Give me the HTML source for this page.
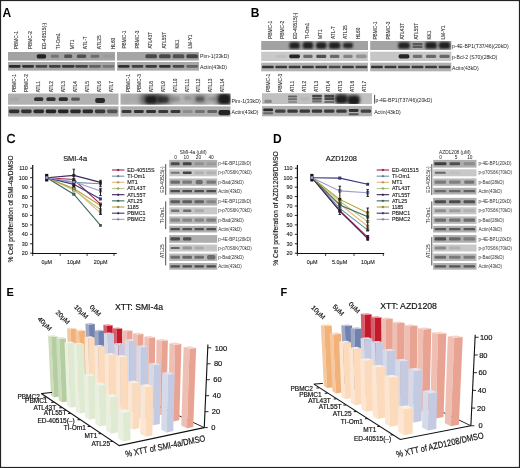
<!DOCTYPE html>
<html><head><meta charset="utf-8"><style>
html,body{margin:0;padding:0;background:#fff;}
svg{display:block;will-change:transform;}
text{font-family:"Liberation Sans",sans-serif;}
</style></head><body>
<svg width="520" height="468" viewBox="0 0 520 468">
<defs>
<filter id="b3" x="-50%" y="-50%" width="200%" height="200%"><feGaussianBlur stdDeviation="0.3"/></filter>
<filter id="b6" x="-50%" y="-50%" width="200%" height="200%"><feGaussianBlur stdDeviation="0.6"/></filter>
<filter id="b10" x="-50%" y="-50%" width="200%" height="200%"><feGaussianBlur stdDeviation="1.0"/></filter>
<filter id="b15" x="-50%" y="-50%" width="200%" height="200%"><feGaussianBlur stdDeviation="1.5"/></filter>
<filter id="b20" x="-50%" y="-50%" width="200%" height="200%"><feGaussianBlur stdDeviation="2.0"/></filter>
<filter id="b8" x="-50%" y="-50%" width="200%" height="200%"><feGaussianBlur stdDeviation="0.8"/></filter>
</defs>
<rect x="0" y="0" width="520" height="468" fill="#fff"/>
<text x="2.60" y="16.60" font-size="12" text-anchor="start" font-weight="bold" fill="#000">A</text>
<text x="18.50" y="49.20" font-size="4.8" text-anchor="start" font-weight="normal" fill="#333" transform="rotate(-90 18.50 49.20)" stroke="#333" stroke-width="0.1">PBMC-1</text>
<text x="32.27" y="49.20" font-size="4.8" text-anchor="start" font-weight="normal" fill="#333" transform="rotate(-90 32.27 49.20)" stroke="#333" stroke-width="0.1">PBMC-2</text>
<text x="46.04" y="49.20" font-size="4.8" text-anchor="start" font-weight="normal" fill="#333" transform="rotate(-90 46.04 49.20)" stroke="#333" stroke-width="0.1">ED-40515(-)</text>
<text x="59.81" y="49.20" font-size="4.8" text-anchor="start" font-weight="normal" fill="#333" transform="rotate(-90 59.81 49.20)" stroke="#333" stroke-width="0.1">TI-Om1</text>
<text x="73.58" y="49.20" font-size="4.8" text-anchor="start" font-weight="normal" fill="#333" transform="rotate(-90 73.58 49.20)" stroke="#333" stroke-width="0.1">MT1</text>
<text x="87.35" y="49.20" font-size="4.8" text-anchor="start" font-weight="normal" fill="#333" transform="rotate(-90 87.35 49.20)" stroke="#333" stroke-width="0.1">ATL-T</text>
<text x="101.12" y="49.20" font-size="4.8" text-anchor="start" font-weight="normal" fill="#333" transform="rotate(-90 101.12 49.20)" stroke="#333" stroke-width="0.1">ATL25</text>
<text x="114.89" y="49.20" font-size="4.8" text-anchor="start" font-weight="normal" fill="#333" transform="rotate(-90 114.89 49.20)" stroke="#333" stroke-width="0.1">HL60</text>
<text x="125.70" y="48.60" font-size="4.8" text-anchor="start" font-weight="normal" fill="#333" transform="rotate(-90 125.70 48.60)" stroke="#333" stroke-width="0.1">PBMC-1</text>
<text x="139.00" y="48.60" font-size="4.8" text-anchor="start" font-weight="normal" fill="#333" transform="rotate(-90 139.00 48.60)" stroke="#333" stroke-width="0.1">PBMC-3</text>
<text x="152.30" y="48.60" font-size="4.8" text-anchor="start" font-weight="normal" fill="#333" transform="rotate(-90 152.30 48.60)" stroke="#333" stroke-width="0.1">ATL43T</text>
<text x="165.60" y="48.60" font-size="4.8" text-anchor="start" font-weight="normal" fill="#333" transform="rotate(-90 165.60 48.60)" stroke="#333" stroke-width="0.1">ATL55T</text>
<text x="178.90" y="48.60" font-size="4.8" text-anchor="start" font-weight="normal" fill="#333" transform="rotate(-90 178.90 48.60)" stroke="#333" stroke-width="0.1">KK1</text>
<text x="192.20" y="48.60" font-size="4.8" text-anchor="start" font-weight="normal" fill="#333" transform="rotate(-90 192.20 48.60)" stroke="#333" stroke-width="0.1">LM-Y1</text>
<text x="16.20" y="92.30" font-size="4.8" text-anchor="start" font-weight="normal" fill="#333" transform="rotate(-90 16.20 92.30)" stroke="#333" stroke-width="0.1">PBMC-1</text>
<text x="28.35" y="92.30" font-size="4.8" text-anchor="start" font-weight="normal" fill="#333" transform="rotate(-90 28.35 92.30)" stroke="#333" stroke-width="0.1">PBMC-2</text>
<text x="40.50" y="92.30" font-size="4.8" text-anchor="start" font-weight="normal" fill="#333" transform="rotate(-90 40.50 92.30)" stroke="#333" stroke-width="0.1">ATL1</text>
<text x="52.65" y="92.30" font-size="4.8" text-anchor="start" font-weight="normal" fill="#333" transform="rotate(-90 52.65 92.30)" stroke="#333" stroke-width="0.1">ATL2</text>
<text x="64.80" y="92.30" font-size="4.8" text-anchor="start" font-weight="normal" fill="#333" transform="rotate(-90 64.80 92.30)" stroke="#333" stroke-width="0.1">ATL3</text>
<text x="76.95" y="92.30" font-size="4.8" text-anchor="start" font-weight="normal" fill="#333" transform="rotate(-90 76.95 92.30)" stroke="#333" stroke-width="0.1">ATL4</text>
<text x="89.10" y="92.30" font-size="4.8" text-anchor="start" font-weight="normal" fill="#333" transform="rotate(-90 89.10 92.30)" stroke="#333" stroke-width="0.1">ATL5</text>
<text x="101.25" y="92.30" font-size="4.8" text-anchor="start" font-weight="normal" fill="#333" transform="rotate(-90 101.25 92.30)" stroke="#333" stroke-width="0.1">ATL6</text>
<text x="113.40" y="92.30" font-size="4.8" text-anchor="start" font-weight="normal" fill="#333" transform="rotate(-90 113.40 92.30)" stroke="#333" stroke-width="0.1">ATL7</text>
<text x="129.70" y="92.30" font-size="4.8" text-anchor="start" font-weight="normal" fill="#333" transform="rotate(-90 129.70 92.30)" stroke="#333" stroke-width="0.1">PBMC-1</text>
<text x="141.48" y="92.30" font-size="4.8" text-anchor="start" font-weight="normal" fill="#333" transform="rotate(-90 141.48 92.30)" stroke="#333" stroke-width="0.1">PBMC-3</text>
<text x="153.26" y="92.30" font-size="4.8" text-anchor="start" font-weight="normal" fill="#333" transform="rotate(-90 153.26 92.30)" stroke="#333" stroke-width="0.1">ATL8</text>
<text x="165.04" y="92.30" font-size="4.8" text-anchor="start" font-weight="normal" fill="#333" transform="rotate(-90 165.04 92.30)" stroke="#333" stroke-width="0.1">ATL9</text>
<text x="176.82" y="92.30" font-size="4.8" text-anchor="start" font-weight="normal" fill="#333" transform="rotate(-90 176.82 92.30)" stroke="#333" stroke-width="0.1">ATL10</text>
<text x="188.60" y="92.30" font-size="4.8" text-anchor="start" font-weight="normal" fill="#333" transform="rotate(-90 188.60 92.30)" stroke="#333" stroke-width="0.1">ATL11</text>
<text x="200.38" y="92.30" font-size="4.8" text-anchor="start" font-weight="normal" fill="#333" transform="rotate(-90 200.38 92.30)" stroke="#333" stroke-width="0.1">ATL12</text>
<text x="212.16" y="92.30" font-size="4.8" text-anchor="start" font-weight="normal" fill="#333" transform="rotate(-90 212.16 92.30)" stroke="#333" stroke-width="0.1">ATL13</text>
<text x="223.94" y="92.30" font-size="4.8" text-anchor="start" font-weight="normal" fill="#333" transform="rotate(-90 223.94 92.30)" stroke="#333" stroke-width="0.1">ATL14</text>
<rect x="8.00" y="52.00" width="107.00" height="8.60" fill="#a3a3a3"/>
<clipPath id="c1"><rect x="8.00" y="52.00" width="107.00" height="8.60"/></clipPath><g clip-path="url(#c1)">
<rect x="36.76" y="54.15" width="9.36" height="4.30" rx="1.72" fill="#1a1a1a" opacity="0.95" filter="url(#b6)"/>
<rect x="50.80" y="54.79" width="8.03" height="3.01" rx="1.20" fill="#1a1a1a" opacity="0.35" filter="url(#b6)"/>
<rect x="64.17" y="54.58" width="8.03" height="3.44" rx="1.38" fill="#1a1a1a" opacity="0.60" filter="url(#b6)"/>
<rect x="76.88" y="54.58" width="9.36" height="3.44" rx="1.38" fill="#1a1a1a" opacity="0.60" filter="url(#b6)"/>
<rect x="90.59" y="54.79" width="8.69" height="3.01" rx="1.20" fill="#1a1a1a" opacity="0.40" filter="url(#b6)"/>
<rect x="102.96" y="54.84" width="10.70" height="2.92" rx="1.17" fill="#1a1a1a" opacity="0.05" filter="url(#b6)"/>
</g>
<rect x="8.00" y="62.00" width="107.00" height="8.60" fill="#a6a6a6"/>
<clipPath id="c2"><rect x="8.00" y="62.00" width="107.00" height="8.60"/></clipPath><g clip-path="url(#c2)">
<rect x="8.80" y="64.92" width="11.77" height="2.75" rx="1.10" fill="#1a1a1a" opacity="0.90" filter="url(#b6)"/>
<rect x="22.18" y="64.92" width="11.77" height="2.75" rx="1.10" fill="#1a1a1a" opacity="0.85" filter="url(#b6)"/>
<rect x="35.55" y="64.92" width="11.77" height="2.75" rx="1.10" fill="#1a1a1a" opacity="0.70" filter="url(#b6)"/>
<rect x="48.93" y="64.92" width="11.77" height="2.75" rx="1.10" fill="#1a1a1a" opacity="0.75" filter="url(#b6)"/>
<rect x="61.83" y="64.92" width="12.71" height="2.75" rx="1.10" fill="#1a1a1a" opacity="0.80" filter="url(#b6)"/>
<rect x="75.21" y="64.92" width="12.71" height="2.75" rx="1.10" fill="#1a1a1a" opacity="0.70" filter="url(#b6)"/>
<rect x="89.05" y="64.92" width="11.77" height="2.75" rx="1.10" fill="#1a1a1a" opacity="0.50" filter="url(#b6)"/>
<rect x="102.43" y="64.92" width="11.77" height="2.75" rx="1.10" fill="#1a1a1a" opacity="0.35" filter="url(#b6)"/>
</g>
<rect x="117.00" y="52.00" width="82.00" height="8.60" fill="#a5a5a5"/>
<clipPath id="c3"><rect x="117.00" y="52.00" width="82.00" height="8.60"/></clipPath><g clip-path="url(#c3)">
<rect x="145.36" y="54.24" width="11.62" height="4.13" rx="1.65" fill="#1a1a1a" opacity="0.68" filter="url(#b6)"/>
<rect x="159.02" y="54.24" width="11.62" height="4.13" rx="1.65" fill="#1a1a1a" opacity="0.68" filter="url(#b6)"/>
<rect x="172.69" y="54.36" width="11.62" height="3.87" rx="1.55" fill="#1a1a1a" opacity="0.62" filter="url(#b6)"/>
<rect x="186.36" y="54.24" width="11.62" height="4.13" rx="1.65" fill="#1a1a1a" opacity="0.72" filter="url(#b6)"/>
</g>
<rect x="117.00" y="62.00" width="82.00" height="8.60" fill="#a8a8a8"/>
<clipPath id="c4"><rect x="117.00" y="62.00" width="82.00" height="8.60"/></clipPath><g clip-path="url(#c4)">
<rect x="118.02" y="64.92" width="11.62" height="2.75" rx="1.10" fill="#1a1a1a" opacity="0.85" filter="url(#b6)"/>
<rect x="131.69" y="64.92" width="11.62" height="2.75" rx="1.10" fill="#1a1a1a" opacity="0.75" filter="url(#b6)"/>
<rect x="145.36" y="64.92" width="11.62" height="2.75" rx="1.10" fill="#1a1a1a" opacity="0.80" filter="url(#b6)"/>
<rect x="159.02" y="64.92" width="11.62" height="2.75" rx="1.10" fill="#1a1a1a" opacity="0.85" filter="url(#b6)"/>
<rect x="172.69" y="64.92" width="11.62" height="2.75" rx="1.10" fill="#1a1a1a" opacity="0.70" filter="url(#b6)"/>
<rect x="186.36" y="64.92" width="11.62" height="2.75" rx="1.10" fill="#1a1a1a" opacity="0.50" filter="url(#b6)"/>
</g>
<rect x="8.00" y="93.50" width="110.50" height="11.20" fill="#b1b1b1"/>
<clipPath id="c5"><rect x="8.00" y="93.50" width="110.50" height="11.20"/></clipPath><g clip-path="url(#c5)">
<rect x="9.23" y="97.20" width="9.82" height="3.81" rx="1.52" fill="#1a1a1a" opacity="0.05" filter="url(#b6)"/>
<rect x="34.09" y="97.14" width="9.21" height="3.92" rx="1.57" fill="#1a1a1a" opacity="0.85" filter="url(#b6)"/>
<rect x="46.37" y="97.14" width="9.21" height="3.92" rx="1.57" fill="#1a1a1a" opacity="0.85" filter="url(#b6)"/>
<rect x="58.65" y="97.14" width="9.21" height="3.92" rx="1.57" fill="#1a1a1a" opacity="0.90" filter="url(#b6)"/>
<rect x="71.23" y="97.42" width="8.59" height="3.36" rx="1.34" fill="#1a1a1a" opacity="0.60" filter="url(#b6)"/>
<rect x="95.17" y="97.92" width="9.82" height="5.04" rx="2.02" fill="#1a1a1a" opacity="0.90" filter="url(#b6)"/>
</g>
<rect x="8.00" y="106.30" width="110.50" height="10.30" fill="#a9a9a9"/>
<clipPath id="c6"><rect x="8.00" y="106.30" width="110.50" height="10.30"/></clipPath><g clip-path="url(#c6)">
<rect x="8.92" y="109.60" width="10.44" height="3.71" rx="1.48" fill="#1a1a1a" opacity="0.85" filter="url(#b6)"/>
<rect x="21.20" y="109.60" width="10.44" height="3.71" rx="1.48" fill="#1a1a1a" opacity="0.85" filter="url(#b6)"/>
<rect x="33.48" y="109.60" width="10.44" height="3.71" rx="1.48" fill="#1a1a1a" opacity="0.90" filter="url(#b6)"/>
<rect x="45.75" y="109.60" width="10.44" height="3.71" rx="1.48" fill="#1a1a1a" opacity="0.95" filter="url(#b6)"/>
<rect x="58.03" y="109.60" width="10.44" height="3.71" rx="1.48" fill="#1a1a1a" opacity="0.95" filter="url(#b6)"/>
<rect x="70.31" y="109.60" width="10.44" height="3.71" rx="1.48" fill="#1a1a1a" opacity="0.90" filter="url(#b6)"/>
<rect x="82.59" y="109.60" width="10.44" height="3.71" rx="1.48" fill="#1a1a1a" opacity="0.90" filter="url(#b6)"/>
<rect x="94.87" y="109.60" width="10.44" height="3.71" rx="1.48" fill="#1a1a1a" opacity="0.80" filter="url(#b6)"/>
<rect x="107.14" y="109.60" width="10.44" height="3.71" rx="1.48" fill="#1a1a1a" opacity="0.60" filter="url(#b6)"/>
</g>
<rect x="120.50" y="93.50" width="110.00" height="11.20" fill="#b5b5b5"/>
<clipPath id="c7"><rect x="120.50" y="93.50" width="110.00" height="11.20"/></clipPath><g clip-path="url(#c7)">
<rect x="121.11" y="94.62" width="11.00" height="8.96" rx="3.58" fill="#1a1a1a" opacity="0.08" filter="url(#b20)"/>
<rect x="133.33" y="94.62" width="11.00" height="8.96" rx="3.58" fill="#1a1a1a" opacity="0.08" filter="url(#b20)"/>
<rect x="140.67" y="92.94" width="20.78" height="12.32" rx="4.93" fill="#1a1a1a" opacity="0.55" filter="url(#b20)"/>
<rect x="145.56" y="95.74" width="11.00" height="7.84" rx="3.14" fill="#1a1a1a" opacity="0.95" filter="url(#b10)"/>
<rect x="154.72" y="93.50" width="17.11" height="11.20" rx="4.48" fill="#1a1a1a" opacity="0.40" filter="url(#b20)"/>
<rect x="158.08" y="96.58" width="10.39" height="6.16" rx="2.46" fill="#1a1a1a" opacity="0.75" filter="url(#b10)"/>
<rect x="171.22" y="96.58" width="8.56" height="5.04" rx="2.02" fill="#1a1a1a" opacity="0.22" filter="url(#b10)"/>
<rect x="184.06" y="95.74" width="7.33" height="4.48" rx="1.79" fill="#1a1a1a" opacity="0.20" filter="url(#b10)"/>
<rect x="192.61" y="94.06" width="14.67" height="10.08" rx="4.03" fill="#1a1a1a" opacity="0.22" filter="url(#b20)"/>
<rect x="195.67" y="96.58" width="8.56" height="5.04" rx="2.02" fill="#1a1a1a" opacity="0.50" filter="url(#b10)"/>
<rect x="208.50" y="96.86" width="7.33" height="4.48" rx="1.79" fill="#1a1a1a" opacity="0.20" filter="url(#b10)"/>
<rect x="215.83" y="92.94" width="17.11" height="12.32" rx="4.93" fill="#1a1a1a" opacity="0.60" filter="url(#b20)"/>
<rect x="218.58" y="94.34" width="11.61" height="9.52" rx="3.81" fill="#1a1a1a" opacity="1.00" filter="url(#b10)"/>
</g>
<rect x="120.50" y="106.30" width="110.00" height="10.30" fill="#adadad"/>
<clipPath id="c8"><rect x="120.50" y="106.30" width="110.00" height="10.30"/></clipPath><g clip-path="url(#c8)">
<rect x="121.72" y="109.90" width="9.78" height="3.09" rx="1.24" fill="#1a1a1a" opacity="0.80" filter="url(#b6)"/>
<rect x="133.94" y="109.90" width="9.78" height="3.09" rx="1.24" fill="#1a1a1a" opacity="0.85" filter="url(#b6)"/>
<rect x="146.17" y="109.90" width="9.78" height="3.09" rx="1.24" fill="#1a1a1a" opacity="0.85" filter="url(#b6)"/>
<rect x="158.39" y="109.90" width="9.78" height="3.09" rx="1.24" fill="#1a1a1a" opacity="0.80" filter="url(#b6)"/>
<rect x="170.61" y="109.90" width="9.78" height="3.09" rx="1.24" fill="#1a1a1a" opacity="0.80" filter="url(#b6)"/>
<rect x="182.83" y="109.90" width="9.78" height="3.09" rx="1.24" fill="#1a1a1a" opacity="0.22" filter="url(#b6)"/>
<rect x="195.06" y="109.90" width="9.78" height="3.09" rx="1.24" fill="#1a1a1a" opacity="0.40" filter="url(#b6)"/>
<rect x="207.28" y="109.90" width="9.78" height="3.09" rx="1.24" fill="#1a1a1a" opacity="0.50" filter="url(#b6)"/>
<rect x="218.58" y="110.11" width="11.61" height="5.15" rx="2.06" fill="#1a1a1a" opacity="0.95" filter="url(#b6)"/>
</g>
<text x="200.00" y="58.00" font-size="5.2" text-anchor="start" font-weight="normal" fill="#222">Pim-1(33kD)</text>
<text x="200.00" y="69.30" font-size="5.2" text-anchor="start" font-weight="normal" fill="#222">Actin(43kD)</text>
<text x="231.50" y="102.60" font-size="5.2" text-anchor="start" font-weight="normal" fill="#222">Pim-1(33kD)</text>
<text x="231.50" y="114.20" font-size="5.2" text-anchor="start" font-weight="normal" fill="#222">Actin(43kD)</text>
<text x="250.80" y="16.60" font-size="12" text-anchor="start" font-weight="bold" fill="#000">B</text>
<text x="271.50" y="39.00" font-size="4.8" text-anchor="start" font-weight="normal" fill="#333" transform="rotate(-90 271.50 39.00)" stroke="#333" stroke-width="0.1">PBMC-1</text>
<text x="284.12" y="39.00" font-size="4.8" text-anchor="start" font-weight="normal" fill="#333" transform="rotate(-90 284.12 39.00)" stroke="#333" stroke-width="0.1">PBMC-2</text>
<text x="296.74" y="39.00" font-size="4.8" text-anchor="start" font-weight="normal" fill="#333" transform="rotate(-90 296.74 39.00)" stroke="#333" stroke-width="0.1">ED-40515(-)</text>
<text x="309.36" y="39.00" font-size="4.8" text-anchor="start" font-weight="normal" fill="#333" transform="rotate(-90 309.36 39.00)" stroke="#333" stroke-width="0.1">TI-Om1</text>
<text x="321.98" y="39.00" font-size="4.8" text-anchor="start" font-weight="normal" fill="#333" transform="rotate(-90 321.98 39.00)" stroke="#333" stroke-width="0.1">MT1</text>
<text x="334.60" y="39.00" font-size="4.8" text-anchor="start" font-weight="normal" fill="#333" transform="rotate(-90 334.60 39.00)" stroke="#333" stroke-width="0.1">ATL-T</text>
<text x="347.22" y="39.00" font-size="4.8" text-anchor="start" font-weight="normal" fill="#333" transform="rotate(-90 347.22 39.00)" stroke="#333" stroke-width="0.1">ATL25</text>
<text x="359.84" y="39.00" font-size="4.8" text-anchor="start" font-weight="normal" fill="#333" transform="rotate(-90 359.84 39.00)" stroke="#333" stroke-width="0.1">HL60</text>
<text x="376.90" y="39.60" font-size="4.8" text-anchor="start" font-weight="normal" fill="#333" transform="rotate(-90 376.90 39.60)" stroke="#333" stroke-width="0.1">PBMC-1</text>
<text x="390.50" y="39.60" font-size="4.8" text-anchor="start" font-weight="normal" fill="#333" transform="rotate(-90 390.50 39.60)" stroke="#333" stroke-width="0.1">PBMC-3</text>
<text x="404.10" y="39.60" font-size="4.8" text-anchor="start" font-weight="normal" fill="#333" transform="rotate(-90 404.10 39.60)" stroke="#333" stroke-width="0.1">ATL43T</text>
<text x="417.70" y="39.60" font-size="4.8" text-anchor="start" font-weight="normal" fill="#333" transform="rotate(-90 417.70 39.60)" stroke="#333" stroke-width="0.1">ATL55T</text>
<text x="431.30" y="39.60" font-size="4.8" text-anchor="start" font-weight="normal" fill="#333" transform="rotate(-90 431.30 39.60)" stroke="#333" stroke-width="0.1">KK1</text>
<text x="444.90" y="39.60" font-size="4.8" text-anchor="start" font-weight="normal" fill="#333" transform="rotate(-90 444.90 39.60)" stroke="#333" stroke-width="0.1">LM-Y1</text>
<text x="270.40" y="92.00" font-size="4.8" text-anchor="start" font-weight="normal" fill="#333" transform="rotate(-90 270.40 92.00)" stroke="#333" stroke-width="0.1">PBMC-1</text>
<text x="282.38" y="92.00" font-size="4.8" text-anchor="start" font-weight="normal" fill="#333" transform="rotate(-90 282.38 92.00)" stroke="#333" stroke-width="0.1">PBMC-3</text>
<text x="294.36" y="92.00" font-size="4.8" text-anchor="start" font-weight="normal" fill="#333" transform="rotate(-90 294.36 92.00)" stroke="#333" stroke-width="0.1">ATL1</text>
<text x="306.34" y="92.00" font-size="4.8" text-anchor="start" font-weight="normal" fill="#333" transform="rotate(-90 306.34 92.00)" stroke="#333" stroke-width="0.1">ATL2</text>
<text x="318.32" y="92.00" font-size="4.8" text-anchor="start" font-weight="normal" fill="#333" transform="rotate(-90 318.32 92.00)" stroke="#333" stroke-width="0.1">ATL3</text>
<text x="330.30" y="92.00" font-size="4.8" text-anchor="start" font-weight="normal" fill="#333" transform="rotate(-90 330.30 92.00)" stroke="#333" stroke-width="0.1">ATL4</text>
<text x="342.28" y="92.00" font-size="4.8" text-anchor="start" font-weight="normal" fill="#333" transform="rotate(-90 342.28 92.00)" stroke="#333" stroke-width="0.1">ATL5</text>
<text x="354.26" y="92.00" font-size="4.8" text-anchor="start" font-weight="normal" fill="#333" transform="rotate(-90 354.26 92.00)" stroke="#333" stroke-width="0.1">ATL6</text>
<text x="366.24" y="92.00" font-size="4.8" text-anchor="start" font-weight="normal" fill="#333" transform="rotate(-90 366.24 92.00)" stroke="#333" stroke-width="0.1">ATL7</text>
<rect x="261.20" y="41.00" width="106.80" height="9.00" fill="#a2a2a2"/>
<clipPath id="c9"><rect x="261.20" y="41.00" width="106.80" height="9.00"/></clipPath><g clip-path="url(#c9)">
<rect x="289.37" y="42.26" width="10.41" height="6.48" rx="2.59" fill="#1a1a1a" opacity="0.97" filter="url(#b8)"/>
<rect x="302.72" y="42.12" width="10.41" height="6.75" rx="2.70" fill="#1a1a1a" opacity="0.97" filter="url(#b8)"/>
<rect x="316.07" y="42.35" width="10.41" height="6.30" rx="2.52" fill="#1a1a1a" opacity="0.97" filter="url(#b8)"/>
<rect x="328.95" y="42.35" width="11.35" height="6.30" rx="2.52" fill="#1a1a1a" opacity="0.97" filter="url(#b8)"/>
<rect x="342.97" y="42.80" width="10.01" height="5.40" rx="2.16" fill="#1a1a1a" opacity="0.92" filter="url(#b8)"/>
</g>
<rect x="261.20" y="51.70" width="106.80" height="9.30" fill="#c9c9c9"/>
<clipPath id="c10"><rect x="261.20" y="51.70" width="106.80" height="9.30"/></clipPath><g clip-path="url(#c10)">
<rect x="275.88" y="54.77" width="10.68" height="3.16" rx="1.26" fill="#1a1a1a" opacity="0.05" filter="url(#b6)"/>
<rect x="289.24" y="54.49" width="10.68" height="3.72" rx="1.49" fill="#1a1a1a" opacity="0.95" filter="url(#b6)"/>
<rect x="303.25" y="54.72" width="9.35" height="3.25" rx="1.30" fill="#1a1a1a" opacity="0.55" filter="url(#b6)"/>
<rect x="316.27" y="54.72" width="10.01" height="3.25" rx="1.30" fill="#1a1a1a" opacity="0.70" filter="url(#b6)"/>
<rect x="329.95" y="54.72" width="9.35" height="3.25" rx="1.30" fill="#1a1a1a" opacity="0.55" filter="url(#b6)"/>
<rect x="343.30" y="54.72" width="9.35" height="3.25" rx="1.30" fill="#1a1a1a" opacity="0.40" filter="url(#b6)"/>
<rect x="355.99" y="54.49" width="10.68" height="3.72" rx="1.49" fill="#1a1a1a" opacity="0.30" filter="url(#b6)"/>
</g>
<rect x="261.20" y="62.70" width="106.80" height="8.60" fill="#b2b2b2"/>
<clipPath id="c11"><rect x="261.20" y="62.70" width="106.80" height="8.60"/></clipPath><g clip-path="url(#c11)">
<rect x="262.00" y="65.80" width="11.75" height="2.41" rx="0.96" fill="#1a1a1a" opacity="0.85" filter="url(#b6)"/>
<rect x="275.35" y="65.80" width="11.75" height="2.41" rx="0.96" fill="#1a1a1a" opacity="0.80" filter="url(#b6)"/>
<rect x="288.70" y="65.80" width="11.75" height="2.41" rx="0.96" fill="#1a1a1a" opacity="0.80" filter="url(#b6)"/>
<rect x="302.05" y="65.80" width="11.75" height="2.41" rx="0.96" fill="#1a1a1a" opacity="0.80" filter="url(#b6)"/>
<rect x="315.40" y="65.80" width="11.75" height="2.41" rx="0.96" fill="#1a1a1a" opacity="0.80" filter="url(#b6)"/>
<rect x="328.75" y="65.80" width="11.75" height="2.41" rx="0.96" fill="#1a1a1a" opacity="0.70" filter="url(#b6)"/>
<rect x="342.10" y="65.80" width="11.75" height="2.41" rx="0.96" fill="#1a1a1a" opacity="0.80" filter="url(#b6)"/>
<rect x="355.45" y="65.80" width="11.75" height="2.41" rx="0.96" fill="#1a1a1a" opacity="0.75" filter="url(#b6)"/>
</g>
<rect x="370.20" y="41.00" width="81.10" height="9.00" fill="#a4a4a4"/>
<clipPath id="c12"><rect x="370.20" y="41.00" width="81.10" height="9.00"/></clipPath><g clip-path="url(#c12)">
<rect x="398.18" y="42.26" width="11.62" height="6.48" rx="2.59" fill="#1a1a1a" opacity="0.95" filter="url(#b8)"/>
<rect x="412.44" y="43.02" width="10.14" height="2.25" rx="0.90" fill="#1a1a1a" opacity="0.55" filter="url(#b6)"/>
<rect x="412.44" y="45.73" width="10.14" height="2.25" rx="0.90" fill="#1a1a1a" opacity="0.55" filter="url(#b6)"/>
<rect x="425.28" y="42.12" width="11.49" height="6.75" rx="2.70" fill="#1a1a1a" opacity="0.97" filter="url(#b8)"/>
<rect x="438.80" y="42.12" width="11.49" height="6.75" rx="2.70" fill="#1a1a1a" opacity="0.97" filter="url(#b8)"/>
</g>
<rect x="370.20" y="51.70" width="81.10" height="9.30" fill="#c6c6c6"/>
<clipPath id="c13"><rect x="370.20" y="51.70" width="81.10" height="9.30"/></clipPath><g clip-path="url(#c13)">
<rect x="398.58" y="54.26" width="10.81" height="4.18" rx="1.67" fill="#1a1a1a" opacity="0.95" filter="url(#b6)"/>
<rect x="412.78" y="54.72" width="9.46" height="3.25" rx="1.30" fill="#1a1a1a" opacity="0.50" filter="url(#b6)"/>
<rect x="425.96" y="54.72" width="10.14" height="3.25" rx="1.30" fill="#1a1a1a" opacity="0.55" filter="url(#b6)"/>
<rect x="439.47" y="54.72" width="10.14" height="3.25" rx="1.30" fill="#1a1a1a" opacity="0.55" filter="url(#b6)"/>
</g>
<rect x="370.20" y="62.70" width="81.10" height="8.60" fill="#b0b0b0"/>
<clipPath id="c14"><rect x="370.20" y="62.70" width="81.10" height="8.60"/></clipPath><g clip-path="url(#c14)">
<rect x="371.01" y="65.80" width="11.89" height="2.41" rx="0.96" fill="#1a1a1a" opacity="0.85" filter="url(#b6)"/>
<rect x="384.53" y="65.80" width="11.89" height="2.41" rx="0.96" fill="#1a1a1a" opacity="0.80" filter="url(#b6)"/>
<rect x="398.04" y="65.80" width="11.89" height="2.41" rx="0.96" fill="#1a1a1a" opacity="0.80" filter="url(#b6)"/>
<rect x="411.56" y="65.80" width="11.89" height="2.41" rx="0.96" fill="#1a1a1a" opacity="0.80" filter="url(#b6)"/>
<rect x="425.08" y="65.80" width="11.89" height="2.41" rx="0.96" fill="#1a1a1a" opacity="0.80" filter="url(#b6)"/>
<rect x="438.59" y="65.80" width="11.89" height="2.41" rx="0.96" fill="#1a1a1a" opacity="0.75" filter="url(#b6)"/>
</g>
<rect x="262.00" y="93.20" width="110.00" height="10.90" fill="#c0c0c0"/>
<clipPath id="c15"><rect x="262.00" y="93.20" width="110.00" height="10.90"/></clipPath><g clip-path="url(#c15)">
<rect x="264.44" y="99.74" width="7.33" height="3.27" rx="1.31" fill="#1a1a1a" opacity="0.35" filter="url(#b6)"/>
<rect x="287.97" y="95.49" width="9.17" height="1.96" rx="0.78" fill="#1a1a1a" opacity="0.55" filter="url(#b6)"/>
<rect x="287.97" y="98.21" width="9.17" height="1.96" rx="0.78" fill="#1a1a1a" opacity="0.50" filter="url(#b6)"/>
<rect x="287.97" y="100.94" width="9.17" height="1.96" rx="0.78" fill="#1a1a1a" opacity="0.30" filter="url(#b6)"/>
<rect x="299.89" y="96.80" width="9.78" height="3.71" rx="1.48" fill="#1a1a1a" opacity="0.05" filter="url(#b6)"/>
<rect x="312.11" y="94.84" width="9.78" height="2.18" rx="0.87" fill="#1a1a1a" opacity="0.75" filter="url(#b6)"/>
<rect x="312.11" y="97.56" width="9.78" height="2.18" rx="0.87" fill="#1a1a1a" opacity="0.70" filter="url(#b6)"/>
<rect x="312.11" y="100.28" width="9.78" height="2.18" rx="0.87" fill="#1a1a1a" opacity="0.50" filter="url(#b6)"/>
<rect x="324.33" y="94.84" width="9.78" height="2.18" rx="0.87" fill="#1a1a1a" opacity="0.75" filter="url(#b6)"/>
<rect x="324.33" y="97.29" width="9.78" height="2.72" rx="1.09" fill="#1a1a1a" opacity="0.75" filter="url(#b6)"/>
<rect x="324.33" y="100.83" width="9.78" height="2.18" rx="0.87" fill="#1a1a1a" opacity="0.50" filter="url(#b6)"/>
<rect x="334.11" y="93.47" width="14.67" height="10.35" rx="4.14" fill="#1a1a1a" opacity="0.60" filter="url(#b15)"/>
<rect x="336.25" y="95.38" width="10.39" height="7.63" rx="3.05" fill="#1a1a1a" opacity="0.95" filter="url(#b8)"/>
<rect x="346.94" y="94.56" width="13.44" height="10.35" rx="4.14" fill="#1a1a1a" opacity="0.60" filter="url(#b15)"/>
<rect x="348.47" y="96.20" width="10.39" height="8.17" rx="3.27" fill="#1a1a1a" opacity="1.00" filter="url(#b8)"/>
</g>
<rect x="262.00" y="105.90" width="110.00" height="10.40" fill="#b0b0b0"/>
<clipPath id="c16"><rect x="262.00" y="105.90" width="110.00" height="10.40"/></clipPath><g clip-path="url(#c16)">
<rect x="263.22" y="108.40" width="9.78" height="2.91" rx="1.16" fill="#1a1a1a" opacity="0.90" filter="url(#b6)"/>
<rect x="263.22" y="112.14" width="9.78" height="2.08" rx="0.83" fill="#1a1a1a" opacity="0.50" filter="url(#b6)"/>
<rect x="275.14" y="109.54" width="10.39" height="3.12" rx="1.25" fill="#1a1a1a" opacity="0.75" filter="url(#b6)"/>
<rect x="287.36" y="109.54" width="10.39" height="3.12" rx="1.25" fill="#1a1a1a" opacity="0.80" filter="url(#b6)"/>
<rect x="299.58" y="109.54" width="10.39" height="3.12" rx="1.25" fill="#1a1a1a" opacity="0.80" filter="url(#b6)"/>
<rect x="311.81" y="109.54" width="10.39" height="3.12" rx="1.25" fill="#1a1a1a" opacity="0.80" filter="url(#b6)"/>
<rect x="324.03" y="109.54" width="10.39" height="3.12" rx="1.25" fill="#1a1a1a" opacity="0.80" filter="url(#b6)"/>
<rect x="336.25" y="109.54" width="10.39" height="3.12" rx="1.25" fill="#1a1a1a" opacity="0.80" filter="url(#b6)"/>
<rect x="348.78" y="109.12" width="9.78" height="2.91" rx="1.16" fill="#1a1a1a" opacity="0.85" filter="url(#b6)"/>
<rect x="348.78" y="113.18" width="9.78" height="2.08" rx="0.83" fill="#1a1a1a" opacity="0.60" filter="url(#b6)"/>
<rect x="360.69" y="109.54" width="10.39" height="3.12" rx="1.25" fill="#1a1a1a" opacity="0.75" filter="url(#b6)"/>
</g>
<text x="452.00" y="47.70" font-size="5.1" text-anchor="start" font-weight="normal" fill="#222">p-4E-BP1(T37/46)(20kD)</text>
<text x="452.00" y="59.20" font-size="5.1" text-anchor="start" font-weight="normal" fill="#222">p-Bcl-2 (S70)(28kD)</text>
<text x="452.00" y="69.60" font-size="5.1" text-anchor="start" font-weight="normal" fill="#222">Actin(43kD)</text>
<line x1="374.6" y1="94.8" x2="374.6" y2="103.5" stroke="#222" stroke-width="0.8"/>
<text x="375.60" y="101.70" font-size="5.1" text-anchor="start" font-weight="normal" fill="#222">p-4E-BP1(T37/46)(20kD)</text>
<text x="374.20" y="114.00" font-size="5.1" text-anchor="start" font-weight="normal" fill="#222">Actin(43kD)</text>
<text x="6.40" y="143.20" font-size="12.5" text-anchor="start" font-weight="normal" fill="#000" stroke="#000" stroke-width="0.35">C</text>
<line x1="32.7" y1="165.0" x2="32.7" y2="254.1" stroke="#111" stroke-width="1.2"/>
<line x1="32.1" y1="253.5" x2="116.8" y2="253.5" stroke="#111" stroke-width="1.2"/>
<line x1="30.1" y1="253.20" x2="32.7" y2="253.20" stroke="#111" stroke-width="0.9"/>
<text x="27.80" y="255.15" font-size="5.4" text-anchor="end" font-weight="normal" fill="#222" stroke="#222" stroke-width="0.12">20</text>
<line x1="30.1" y1="243.76" x2="32.7" y2="243.76" stroke="#111" stroke-width="0.9"/>
<text x="27.80" y="245.71" font-size="5.4" text-anchor="end" font-weight="normal" fill="#222" stroke="#222" stroke-width="0.12">30</text>
<line x1="30.1" y1="234.32" x2="32.7" y2="234.32" stroke="#111" stroke-width="0.9"/>
<text x="27.80" y="236.27" font-size="5.4" text-anchor="end" font-weight="normal" fill="#222" stroke="#222" stroke-width="0.12">40</text>
<line x1="30.1" y1="224.88" x2="32.7" y2="224.88" stroke="#111" stroke-width="0.9"/>
<text x="27.80" y="226.83" font-size="5.4" text-anchor="end" font-weight="normal" fill="#222" stroke="#222" stroke-width="0.12">50</text>
<line x1="30.1" y1="215.44" x2="32.7" y2="215.44" stroke="#111" stroke-width="0.9"/>
<text x="27.80" y="217.39" font-size="5.4" text-anchor="end" font-weight="normal" fill="#222" stroke="#222" stroke-width="0.12">60</text>
<line x1="30.1" y1="206.00" x2="32.7" y2="206.00" stroke="#111" stroke-width="0.9"/>
<text x="27.80" y="207.95" font-size="5.4" text-anchor="end" font-weight="normal" fill="#222" stroke="#222" stroke-width="0.12">70</text>
<line x1="30.1" y1="196.56" x2="32.7" y2="196.56" stroke="#111" stroke-width="0.9"/>
<text x="27.80" y="198.51" font-size="5.4" text-anchor="end" font-weight="normal" fill="#222" stroke="#222" stroke-width="0.12">80</text>
<line x1="30.1" y1="187.12" x2="32.7" y2="187.12" stroke="#111" stroke-width="0.9"/>
<text x="27.80" y="189.07" font-size="5.4" text-anchor="end" font-weight="normal" fill="#222" stroke="#222" stroke-width="0.12">90</text>
<line x1="30.1" y1="177.68" x2="32.7" y2="177.68" stroke="#111" stroke-width="0.9"/>
<text x="27.80" y="179.63" font-size="5.4" text-anchor="end" font-weight="normal" fill="#222" stroke="#222" stroke-width="0.12">100</text>
<line x1="30.1" y1="168.24" x2="32.7" y2="168.24" stroke="#111" stroke-width="0.9"/>
<text x="27.80" y="170.19" font-size="5.4" text-anchor="end" font-weight="normal" fill="#222" stroke="#222" stroke-width="0.12">110</text>
<line x1="32.7" y1="253.5" x2="32.7" y2="256.0" stroke="#111" stroke-width="0.8"/>
<line x1="60.2" y1="253.5" x2="60.2" y2="256.0" stroke="#111" stroke-width="0.8"/>
<line x1="87.1" y1="253.5" x2="87.1" y2="256.0" stroke="#111" stroke-width="0.8"/>
<line x1="114.0" y1="253.5" x2="114.0" y2="256.0" stroke="#111" stroke-width="0.8"/>
<text x="46.70" y="264.00" font-size="5.4" text-anchor="middle" font-weight="normal" fill="#222" stroke="#222" stroke-width="0.1">0μM</text>
<text x="73.70" y="264.00" font-size="5.4" text-anchor="middle" font-weight="normal" fill="#222" stroke="#222" stroke-width="0.1">10μM</text>
<text x="100.60" y="264.00" font-size="5.4" text-anchor="middle" font-weight="normal" fill="#222" stroke="#222" stroke-width="0.1">20μM</text>
<text x="75.10" y="161.30" font-size="7.4" text-anchor="middle" font-weight="normal" fill="#111" stroke="#111" stroke-width="0.15">SMI-4a</text>
<text x="12.50" y="209.00" font-size="6.7" text-anchor="middle" font-weight="normal" fill="#1a1a1a" transform="rotate(-90 12.50 209.00)" textLength="107.00" lengthAdjust="spacingAndGlyphs" stroke="#1a1a1a" stroke-width="0.15">% Cell proliferation of SMI-4a/DMSO</text>
<polyline points="46.70,177.68 73.80,179.57 100.50,204.11" fill="none" stroke="#a3224d" stroke-width="1.1"/>
<polyline points="46.70,177.68 73.80,182.40 100.50,183.82" fill="none" stroke="#6f93a8" stroke-width="1.1"/>
<polyline points="46.70,177.68 73.80,189.01 100.50,213.08" fill="none" stroke="#e6b877" stroke-width="1.1"/>
<polyline points="46.70,177.68 73.80,189.95 100.50,209.78" fill="none" stroke="#b9c98c" stroke-width="1.1"/>
<polyline points="46.70,177.68 73.80,175.41 100.50,182.40" fill="none" stroke="#3d2657" stroke-width="1.1"/>
<polyline points="46.70,177.68 73.80,194.20 100.50,225.45" fill="none" stroke="#3e6b5c" stroke-width="1.1"/>
<polyline points="46.70,177.68 73.80,188.54 100.50,205.53" fill="none" stroke="#b7a03e" stroke-width="1.1"/>
<polyline points="46.70,177.68 73.80,184.38 100.50,199.01" fill="none" stroke="#33377f" stroke-width="1.1"/>
<polyline points="46.70,177.68 73.80,181.74 100.50,190.90" fill="none" stroke="#9b9bd3" stroke-width="1.1"/>
<rect x="72.50" y="178.27" width="2.6" height="2.6" fill="#a3224d" stroke="#222" stroke-width="0.3"/>
<rect x="99.20" y="202.81" width="2.6" height="2.6" fill="#a3224d" stroke="#222" stroke-width="0.3"/>
<rect x="72.50" y="181.10" width="2.6" height="2.6" fill="#6f93a8" stroke="#222" stroke-width="0.3"/>
<rect x="99.20" y="182.52" width="2.6" height="2.6" fill="#6f93a8" stroke="#222" stroke-width="0.3"/>
<rect x="72.50" y="187.71" width="2.6" height="2.6" fill="#e6b877" stroke="#222" stroke-width="0.3"/>
<rect x="99.20" y="211.78" width="2.6" height="2.6" fill="#e6b877" stroke="#222" stroke-width="0.3"/>
<rect x="72.50" y="188.65" width="2.6" height="2.6" fill="#b9c98c" stroke="#222" stroke-width="0.3"/>
<rect x="99.20" y="208.48" width="2.6" height="2.6" fill="#b9c98c" stroke="#222" stroke-width="0.3"/>
<rect x="72.50" y="174.11" width="2.6" height="2.6" fill="#3d2657" stroke="#222" stroke-width="0.3"/>
<rect x="99.20" y="181.10" width="2.6" height="2.6" fill="#3d2657" stroke="#222" stroke-width="0.3"/>
<rect x="72.50" y="192.90" width="2.6" height="2.6" fill="#3e6b5c" stroke="#222" stroke-width="0.3"/>
<rect x="99.20" y="224.15" width="2.6" height="2.6" fill="#3e6b5c" stroke="#222" stroke-width="0.3"/>
<rect x="72.50" y="187.24" width="2.6" height="2.6" fill="#b7a03e" stroke="#222" stroke-width="0.3"/>
<rect x="99.20" y="204.23" width="2.6" height="2.6" fill="#b7a03e" stroke="#222" stroke-width="0.3"/>
<rect x="72.50" y="183.08" width="2.6" height="2.6" fill="#33377f" stroke="#222" stroke-width="0.3"/>
<rect x="99.20" y="197.71" width="2.6" height="2.6" fill="#33377f" stroke="#222" stroke-width="0.3"/>
<rect x="72.50" y="180.44" width="2.6" height="2.6" fill="#9b9bd3" stroke="#222" stroke-width="0.3"/>
<rect x="99.20" y="189.60" width="2.6" height="2.6" fill="#9b9bd3" stroke="#222" stroke-width="0.3"/>
<rect x="45.10" y="173.90" width="3.2" height="7.55" fill="#111"/>
<rect x="45.50" y="176.26" width="2.4" height="2.83" fill="#9b9bd3"/>
<line x1="112.00" y1="170.00" x2="124.40" y2="170.00" stroke="#a3224d" stroke-width="1.1"/>
<circle cx="118.20" cy="170.00" r="0.95" fill="#a3224d" stroke="#222" stroke-width="0.25"/>
<text x="127.20" y="171.90" font-size="5.3" text-anchor="start" font-weight="normal" fill="#1a1a1a" stroke="#1a1a1a" stroke-width="0.12">ED-40515S</text>
<line x1="112.00" y1="176.17" x2="124.40" y2="176.17" stroke="#6f93a8" stroke-width="1.1"/>
<circle cx="118.20" cy="176.17" r="0.95" fill="#6f93a8" stroke="#222" stroke-width="0.25"/>
<text x="127.20" y="178.07" font-size="5.3" text-anchor="start" font-weight="normal" fill="#1a1a1a" stroke="#1a1a1a" stroke-width="0.12">TI-Om1</text>
<line x1="112.00" y1="182.34" x2="124.40" y2="182.34" stroke="#e6b877" stroke-width="1.1"/>
<circle cx="118.20" cy="182.34" r="0.95" fill="#e6b877" stroke="#222" stroke-width="0.25"/>
<text x="127.20" y="184.24" font-size="5.3" text-anchor="start" font-weight="normal" fill="#1a1a1a" stroke="#1a1a1a" stroke-width="0.12">MT1</text>
<line x1="112.00" y1="188.51" x2="124.40" y2="188.51" stroke="#b9c98c" stroke-width="1.1"/>
<circle cx="118.20" cy="188.51" r="0.95" fill="#b9c98c" stroke="#222" stroke-width="0.25"/>
<text x="127.20" y="190.41" font-size="5.3" text-anchor="start" font-weight="normal" fill="#1a1a1a" stroke="#1a1a1a" stroke-width="0.12">ATL43T</text>
<line x1="112.00" y1="194.68" x2="124.40" y2="194.68" stroke="#3d2657" stroke-width="1.1"/>
<circle cx="118.20" cy="194.68" r="0.95" fill="#3d2657" stroke="#222" stroke-width="0.25"/>
<text x="127.20" y="196.58" font-size="5.3" text-anchor="start" font-weight="normal" fill="#1a1a1a" stroke="#1a1a1a" stroke-width="0.12">ATL55T</text>
<line x1="112.00" y1="200.85" x2="124.40" y2="200.85" stroke="#3e6b5c" stroke-width="1.1"/>
<circle cx="118.20" cy="200.85" r="0.95" fill="#3e6b5c" stroke="#222" stroke-width="0.25"/>
<text x="127.20" y="202.75" font-size="5.3" text-anchor="start" font-weight="normal" fill="#1a1a1a" stroke="#1a1a1a" stroke-width="0.12">ATL25</text>
<line x1="112.00" y1="207.02" x2="124.40" y2="207.02" stroke="#b7a03e" stroke-width="1.1"/>
<circle cx="118.20" cy="207.02" r="0.95" fill="#b7a03e" stroke="#222" stroke-width="0.25"/>
<text x="127.20" y="208.92" font-size="5.3" text-anchor="start" font-weight="normal" fill="#1a1a1a" stroke="#1a1a1a" stroke-width="0.12">1185</text>
<line x1="112.00" y1="213.19" x2="124.40" y2="213.19" stroke="#33377f" stroke-width="1.1"/>
<circle cx="118.20" cy="213.19" r="0.95" fill="#33377f" stroke="#222" stroke-width="0.25"/>
<text x="127.20" y="215.09" font-size="5.3" text-anchor="start" font-weight="normal" fill="#1a1a1a" stroke="#1a1a1a" stroke-width="0.12">PBMC1</text>
<line x1="112.00" y1="219.36" x2="124.40" y2="219.36" stroke="#9b9bd3" stroke-width="1.1"/>
<circle cx="118.20" cy="219.36" r="0.95" fill="#9b9bd3" stroke="#222" stroke-width="0.25"/>
<text x="127.20" y="221.26" font-size="5.3" text-anchor="start" font-weight="normal" fill="#1a1a1a" stroke="#1a1a1a" stroke-width="0.12">PBMC2</text>
<line x1="73.80" y1="169.20" x2="73.80" y2="180.50" stroke="#1a1a1a" stroke-width="1.1"/>
<line x1="72.50" y1="169.20" x2="75.10" y2="169.20" stroke="#1a1a1a" stroke-width="0.9"/>
<line x1="72.50" y1="180.50" x2="75.10" y2="180.50" stroke="#1a1a1a" stroke-width="0.9"/>
<line x1="100.50" y1="180.30" x2="100.50" y2="186.70" stroke="#1a1a1a" stroke-width="1.1"/>
<line x1="99.20" y1="180.30" x2="101.80" y2="180.30" stroke="#1a1a1a" stroke-width="0.9"/>
<line x1="99.20" y1="186.70" x2="101.80" y2="186.70" stroke="#1a1a1a" stroke-width="0.9"/>
<line x1="100.50" y1="188.60" x2="100.50" y2="195.60" stroke="#1a1a1a" stroke-width="1.1"/>
<line x1="99.20" y1="188.60" x2="101.80" y2="188.60" stroke="#1a1a1a" stroke-width="0.9"/>
<line x1="99.20" y1="195.60" x2="101.80" y2="195.60" stroke="#1a1a1a" stroke-width="0.9"/>
<line x1="100.50" y1="204.50" x2="100.50" y2="214.50" stroke="#1a1a1a" stroke-width="1.1"/>
<line x1="99.20" y1="204.50" x2="101.80" y2="204.50" stroke="#1a1a1a" stroke-width="0.9"/>
<line x1="99.20" y1="214.50" x2="101.80" y2="214.50" stroke="#1a1a1a" stroke-width="0.9"/>
<rect x="72.4" y="184.6" width="2.8" height="2.8" fill="#1a1a1a"/>
<text x="193.20" y="153.80" font-size="4.8" text-anchor="middle" font-weight="normal" fill="#222">SMI-4a (μM)</text>
<text x="175.50" y="159.20" font-size="4.8" text-anchor="middle" font-weight="normal" fill="#222">0</text>
<text x="186.20" y="159.20" font-size="4.8" text-anchor="middle" font-weight="normal" fill="#222">10</text>
<text x="198.40" y="159.20" font-size="4.8" text-anchor="middle" font-weight="normal" fill="#222">20</text>
<text x="211.10" y="159.20" font-size="4.8" text-anchor="middle" font-weight="normal" fill="#222">40</text>
<rect x="169.20" y="159.90" width="48.00" height="7.70" fill="#afafaf"/>
<clipPath id="c17"><rect x="169.20" y="159.90" width="48.00" height="7.70"/></clipPath><g clip-path="url(#c17)">
<rect x="170.70" y="162.13" width="9.00" height="3.23" rx="1.29" fill="#1a1a1a" opacity="0.68" filter="url(#b6)"/>
<rect x="182.70" y="162.13" width="9.00" height="3.23" rx="1.29" fill="#1a1a1a" opacity="0.72" filter="url(#b6)"/>
<rect x="194.40" y="162.13" width="9.60" height="3.23" rx="1.29" fill="#1a1a1a" opacity="0.20" filter="url(#b6)"/>
<rect x="206.40" y="162.13" width="9.60" height="3.23" rx="1.29" fill="#1a1a1a" opacity="0.12" filter="url(#b6)"/>
</g>
<text x="218.20" y="165.35" font-size="4.5" text-anchor="start" font-weight="normal" fill="#333">p-4E-BP1(20kD)</text>
<rect x="169.20" y="169.30" width="48.00" height="7.00" fill="#c8c8c8"/>
<clipPath id="c18"><rect x="169.20" y="169.30" width="48.00" height="7.00"/></clipPath><g clip-path="url(#c18)">
<rect x="170.70" y="171.75" width="9.00" height="2.10" rx="0.84" fill="#1a1a1a" opacity="0.48" filter="url(#b6)"/>
<rect x="182.70" y="171.58" width="9.00" height="2.45" rx="0.98" fill="#1a1a1a" opacity="0.76" filter="url(#b6)"/>
<rect x="194.40" y="171.33" width="9.60" height="2.94" rx="1.18" fill="#1a1a1a" opacity="0.12" filter="url(#b6)"/>
<rect x="206.40" y="171.33" width="9.60" height="2.94" rx="1.18" fill="#1a1a1a" opacity="0.12" filter="url(#b6)"/>
</g>
<text x="218.20" y="174.40" font-size="4.5" text-anchor="start" font-weight="normal" fill="#333">p-p70S6K(70kD)</text>
<rect x="169.20" y="178.40" width="48.00" height="7.40" fill="#b9b9b9"/>
<clipPath id="c19"><rect x="169.20" y="178.40" width="48.00" height="7.40"/></clipPath><g clip-path="url(#c19)">
<rect x="170.40" y="180.55" width="9.60" height="3.11" rx="1.24" fill="#1a1a1a" opacity="0.48" filter="url(#b6)"/>
<rect x="182.40" y="180.55" width="9.60" height="3.11" rx="1.24" fill="#1a1a1a" opacity="0.40" filter="url(#b6)"/>
<rect x="195.60" y="179.88" width="7.20" height="4.44" rx="1.78" fill="#1a1a1a" opacity="0.48" filter="url(#b6)"/>
<rect x="206.40" y="180.55" width="9.60" height="3.11" rx="1.24" fill="#1a1a1a" opacity="0.40" filter="url(#b6)"/>
</g>
<text x="218.20" y="183.70" font-size="4.5" text-anchor="start" font-weight="normal" fill="#333">p-Bad(28kD)</text>
<rect x="169.20" y="187.80" width="48.00" height="6.70" fill="#b0b0b0"/>
<clipPath id="c20"><rect x="169.20" y="187.80" width="48.00" height="6.70"/></clipPath><g clip-path="url(#c20)">
<rect x="170.40" y="189.94" width="9.60" height="2.41" rx="0.96" fill="#1a1a1a" opacity="0.68" filter="url(#b6)"/>
<rect x="182.40" y="189.94" width="9.60" height="2.41" rx="0.96" fill="#1a1a1a" opacity="0.68" filter="url(#b6)"/>
<rect x="194.40" y="189.94" width="9.60" height="2.41" rx="0.96" fill="#1a1a1a" opacity="0.68" filter="url(#b6)"/>
<rect x="206.40" y="189.94" width="9.60" height="2.41" rx="0.96" fill="#1a1a1a" opacity="0.68" filter="url(#b6)"/>
</g>
<text x="218.20" y="192.75" font-size="4.5" text-anchor="start" font-weight="normal" fill="#333">Actin(43kD)</text>
<line x1="165.70" y1="164" x2="165.70" y2="195" stroke="#222" stroke-width="0.8"/>
<text x="164.20" y="179.50" font-size="4.8" text-anchor="middle" font-weight="normal" fill="#222" transform="rotate(-90 164.20 179.50)">ED-40515(-)</text>
<rect x="169.20" y="197.90" width="48.00" height="7.70" fill="#afafaf"/>
<clipPath id="c21"><rect x="169.20" y="197.90" width="48.00" height="7.70"/></clipPath><g clip-path="url(#c21)">
<rect x="170.40" y="200.13" width="9.60" height="3.23" rx="1.29" fill="#1a1a1a" opacity="0.56" filter="url(#b6)"/>
<rect x="182.40" y="200.13" width="9.60" height="3.23" rx="1.29" fill="#1a1a1a" opacity="0.56" filter="url(#b6)"/>
<rect x="194.40" y="200.13" width="9.60" height="3.23" rx="1.29" fill="#1a1a1a" opacity="0.52" filter="url(#b6)"/>
<rect x="206.40" y="200.13" width="9.60" height="3.23" rx="1.29" fill="#1a1a1a" opacity="0.28" filter="url(#b6)"/>
</g>
<text x="218.20" y="203.35" font-size="4.5" text-anchor="start" font-weight="normal" fill="#333">p-4E-BP1(20kD)</text>
<rect x="169.20" y="207.30" width="48.00" height="7.00" fill="#c8c8c8"/>
<clipPath id="c22"><rect x="169.20" y="207.30" width="48.00" height="7.00"/></clipPath><g clip-path="url(#c22)">
<rect x="171.00" y="209.58" width="8.40" height="2.45" rx="0.98" fill="#1a1a1a" opacity="0.48" filter="url(#b6)"/>
<rect x="183.00" y="209.58" width="8.40" height="2.45" rx="0.98" fill="#1a1a1a" opacity="0.52" filter="url(#b6)"/>
<rect x="194.40" y="209.33" width="9.60" height="2.94" rx="1.18" fill="#1a1a1a" opacity="0.16" filter="url(#b6)"/>
</g>
<text x="218.20" y="212.40" font-size="4.5" text-anchor="start" font-weight="normal" fill="#333">p-p70S6K(70kD)</text>
<rect x="169.20" y="216.40" width="48.00" height="7.40" fill="#b9b9b9"/>
<clipPath id="c23"><rect x="169.20" y="216.40" width="48.00" height="7.40"/></clipPath><g clip-path="url(#c23)">
<rect x="170.40" y="218.55" width="9.60" height="3.11" rx="1.24" fill="#1a1a1a" opacity="0.32" filter="url(#b6)"/>
<rect x="182.40" y="218.55" width="9.60" height="3.11" rx="1.24" fill="#1a1a1a" opacity="0.32" filter="url(#b6)"/>
<rect x="194.40" y="218.55" width="9.60" height="3.11" rx="1.24" fill="#1a1a1a" opacity="0.32" filter="url(#b6)"/>
<rect x="206.40" y="218.55" width="9.60" height="3.11" rx="1.24" fill="#1a1a1a" opacity="0.36" filter="url(#b6)"/>
</g>
<text x="218.20" y="221.70" font-size="4.5" text-anchor="start" font-weight="normal" fill="#333">p-Bad(28kD)</text>
<rect x="169.20" y="225.80" width="48.00" height="6.70" fill="#b0b0b0"/>
<clipPath id="c24"><rect x="169.20" y="225.80" width="48.00" height="6.70"/></clipPath><g clip-path="url(#c24)">
<rect x="170.40" y="227.94" width="9.60" height="2.41" rx="0.96" fill="#1a1a1a" opacity="0.64" filter="url(#b6)"/>
<rect x="182.40" y="227.94" width="9.60" height="2.41" rx="0.96" fill="#1a1a1a" opacity="0.64" filter="url(#b6)"/>
<rect x="194.40" y="227.94" width="9.60" height="2.41" rx="0.96" fill="#1a1a1a" opacity="0.64" filter="url(#b6)"/>
<rect x="206.40" y="227.94" width="9.60" height="2.41" rx="0.96" fill="#1a1a1a" opacity="0.64" filter="url(#b6)"/>
</g>
<text x="218.20" y="230.75" font-size="4.5" text-anchor="start" font-weight="normal" fill="#333">Actin(43kD)</text>
<line x1="165.70" y1="201.4" x2="165.70" y2="229" stroke="#222" stroke-width="0.8"/>
<text x="164.20" y="215.20" font-size="4.8" text-anchor="middle" font-weight="normal" fill="#222" transform="rotate(-90 164.20 215.20)">TI-Om1</text>
<rect x="169.20" y="235.10" width="48.00" height="7.70" fill="#afafaf"/>
<clipPath id="c25"><rect x="169.20" y="235.10" width="48.00" height="7.70"/></clipPath><g clip-path="url(#c25)">
<rect x="170.40" y="237.33" width="9.60" height="3.23" rx="1.29" fill="#1a1a1a" opacity="0.68" filter="url(#b6)"/>
<rect x="183.00" y="237.33" width="8.40" height="3.23" rx="1.29" fill="#1a1a1a" opacity="0.64" filter="url(#b6)"/>
</g>
<text x="218.20" y="240.55" font-size="4.5" text-anchor="start" font-weight="normal" fill="#333">p-4E-BP1(20kD)</text>
<rect x="169.20" y="244.50" width="48.00" height="7.00" fill="#c8c8c8"/>
<clipPath id="c26"><rect x="169.20" y="244.50" width="48.00" height="7.00"/></clipPath><g clip-path="url(#c26)">
<rect x="170.70" y="246.95" width="9.00" height="2.10" rx="0.84" fill="#1a1a1a" opacity="0.56" filter="url(#b6)"/>
<rect x="182.40" y="246.53" width="9.60" height="2.94" rx="1.18" fill="#1a1a1a" opacity="0.28" filter="url(#b6)"/>
<rect x="194.40" y="246.53" width="9.60" height="2.94" rx="1.18" fill="#1a1a1a" opacity="0.16" filter="url(#b6)"/>
<rect x="206.40" y="246.53" width="9.60" height="2.94" rx="1.18" fill="#1a1a1a" opacity="0.04" filter="url(#b6)"/>
</g>
<text x="218.20" y="249.60" font-size="4.5" text-anchor="start" font-weight="normal" fill="#333">p-p70S6K(70kD)</text>
<rect x="169.20" y="253.60" width="48.00" height="7.40" fill="#b9b9b9"/>
<clipPath id="c27"><rect x="169.20" y="253.60" width="48.00" height="7.40"/></clipPath><g clip-path="url(#c27)">
<rect x="170.40" y="255.75" width="9.60" height="3.11" rx="1.24" fill="#1a1a1a" opacity="0.48" filter="url(#b6)"/>
<rect x="182.40" y="255.75" width="9.60" height="3.11" rx="1.24" fill="#1a1a1a" opacity="0.52" filter="url(#b6)"/>
<rect x="194.40" y="255.75" width="9.60" height="3.11" rx="1.24" fill="#1a1a1a" opacity="0.48" filter="url(#b6)"/>
<rect x="207.00" y="255.08" width="8.40" height="4.44" rx="1.78" fill="#1a1a1a" opacity="0.48" filter="url(#b6)"/>
</g>
<text x="218.20" y="258.90" font-size="4.5" text-anchor="start" font-weight="normal" fill="#333">p-Bad(28kD)</text>
<rect x="169.20" y="263.00" width="48.00" height="6.70" fill="#b0b0b0"/>
<clipPath id="c28"><rect x="169.20" y="263.00" width="48.00" height="6.70"/></clipPath><g clip-path="url(#c28)">
<rect x="170.40" y="265.14" width="9.60" height="2.41" rx="0.96" fill="#1a1a1a" opacity="0.68" filter="url(#b6)"/>
<rect x="182.40" y="265.14" width="9.60" height="2.41" rx="0.96" fill="#1a1a1a" opacity="0.68" filter="url(#b6)"/>
<rect x="194.40" y="265.14" width="9.60" height="2.41" rx="0.96" fill="#1a1a1a" opacity="0.68" filter="url(#b6)"/>
<rect x="206.40" y="265.14" width="9.60" height="2.41" rx="0.96" fill="#1a1a1a" opacity="0.68" filter="url(#b6)"/>
</g>
<text x="218.20" y="267.95" font-size="4.5" text-anchor="start" font-weight="normal" fill="#333">Actin(43kD)</text>
<line x1="165.70" y1="237" x2="165.70" y2="265.4" stroke="#222" stroke-width="0.8"/>
<text x="164.20" y="251.20" font-size="4.8" text-anchor="middle" font-weight="normal" fill="#222" transform="rotate(-90 164.20 251.20)">ATL25</text>
<text x="273.00" y="142.90" font-size="12" text-anchor="start" font-weight="bold" fill="#000">D</text>
<line x1="297.4" y1="165.0" x2="297.4" y2="254.1" stroke="#111" stroke-width="1.2"/>
<line x1="296.79999999999995" y1="253.5" x2="384.2" y2="253.5" stroke="#111" stroke-width="1.2"/>
<line x1="294.79999999999995" y1="253.20" x2="297.4" y2="253.20" stroke="#111" stroke-width="0.9"/>
<text x="292.50" y="255.15" font-size="5.4" text-anchor="end" font-weight="normal" fill="#222" stroke="#222" stroke-width="0.12">20</text>
<line x1="294.79999999999995" y1="243.76" x2="297.4" y2="243.76" stroke="#111" stroke-width="0.9"/>
<text x="292.50" y="245.71" font-size="5.4" text-anchor="end" font-weight="normal" fill="#222" stroke="#222" stroke-width="0.12">30</text>
<line x1="294.79999999999995" y1="234.32" x2="297.4" y2="234.32" stroke="#111" stroke-width="0.9"/>
<text x="292.50" y="236.27" font-size="5.4" text-anchor="end" font-weight="normal" fill="#222" stroke="#222" stroke-width="0.12">40</text>
<line x1="294.79999999999995" y1="224.88" x2="297.4" y2="224.88" stroke="#111" stroke-width="0.9"/>
<text x="292.50" y="226.83" font-size="5.4" text-anchor="end" font-weight="normal" fill="#222" stroke="#222" stroke-width="0.12">50</text>
<line x1="294.79999999999995" y1="215.44" x2="297.4" y2="215.44" stroke="#111" stroke-width="0.9"/>
<text x="292.50" y="217.39" font-size="5.4" text-anchor="end" font-weight="normal" fill="#222" stroke="#222" stroke-width="0.12">60</text>
<line x1="294.79999999999995" y1="206.00" x2="297.4" y2="206.00" stroke="#111" stroke-width="0.9"/>
<text x="292.50" y="207.95" font-size="5.4" text-anchor="end" font-weight="normal" fill="#222" stroke="#222" stroke-width="0.12">70</text>
<line x1="294.79999999999995" y1="196.56" x2="297.4" y2="196.56" stroke="#111" stroke-width="0.9"/>
<text x="292.50" y="198.51" font-size="5.4" text-anchor="end" font-weight="normal" fill="#222" stroke="#222" stroke-width="0.12">80</text>
<line x1="294.79999999999995" y1="187.12" x2="297.4" y2="187.12" stroke="#111" stroke-width="0.9"/>
<text x="292.50" y="189.07" font-size="5.4" text-anchor="end" font-weight="normal" fill="#222" stroke="#222" stroke-width="0.12">90</text>
<line x1="294.79999999999995" y1="177.68" x2="297.4" y2="177.68" stroke="#111" stroke-width="0.9"/>
<text x="292.50" y="179.63" font-size="5.4" text-anchor="end" font-weight="normal" fill="#222" stroke="#222" stroke-width="0.12">100</text>
<line x1="294.79999999999995" y1="168.24" x2="297.4" y2="168.24" stroke="#111" stroke-width="0.9"/>
<text x="292.50" y="170.19" font-size="5.4" text-anchor="end" font-weight="normal" fill="#222" stroke="#222" stroke-width="0.12">110</text>
<line x1="297.4" y1="253.5" x2="297.4" y2="256.0" stroke="#111" stroke-width="0.8"/>
<line x1="325.6" y1="253.5" x2="325.6" y2="256.0" stroke="#111" stroke-width="0.8"/>
<line x1="354.0" y1="253.5" x2="354.0" y2="256.0" stroke="#111" stroke-width="0.8"/>
<line x1="383.3" y1="253.5" x2="383.3" y2="256.0" stroke="#111" stroke-width="0.8"/>
<text x="312.10" y="264.00" font-size="5.4" text-anchor="middle" font-weight="normal" fill="#222" stroke="#222" stroke-width="0.1">0μM</text>
<text x="339.60" y="264.00" font-size="5.4" text-anchor="middle" font-weight="normal" fill="#222" stroke="#222" stroke-width="0.1">5.0μM</text>
<text x="367.90" y="264.00" font-size="5.4" text-anchor="middle" font-weight="normal" fill="#222" stroke="#222" stroke-width="0.1">10μM</text>
<text x="341.35" y="161.30" font-size="7.4" text-anchor="middle" font-weight="normal" fill="#111" stroke="#111" stroke-width="0.15">AZD1208</text>
<text x="278.50" y="208.60" font-size="6.7" text-anchor="middle" font-weight="normal" fill="#1a1a1a" transform="rotate(-90 278.50 208.60)" textLength="114.40" lengthAdjust="spacingAndGlyphs" stroke="#1a1a1a" stroke-width="0.15">% Cell proliferation of AZD1208/DMSO</text>
<polyline points="311.90,177.68 339.80,210.72 367.70,237.15" fill="none" stroke="#a3224d" stroke-width="1.1"/>
<polyline points="311.90,177.68 339.80,208.36 367.70,230.07" fill="none" stroke="#6f93a8" stroke-width="1.1"/>
<polyline points="311.90,177.68 339.80,204.11 367.70,226.30" fill="none" stroke="#e6b877" stroke-width="1.1"/>
<polyline points="311.90,177.68 339.80,201.28 367.70,221.58" fill="none" stroke="#b9c98c" stroke-width="1.1"/>
<polyline points="311.90,177.68 339.80,211.19 367.70,238.57" fill="none" stroke="#3d2657" stroke-width="1.1"/>
<polyline points="311.90,177.68 339.80,205.06 367.70,216.86" fill="none" stroke="#3e6b5c" stroke-width="1.1"/>
<polyline points="311.90,177.68 339.80,199.39 367.70,213.08" fill="none" stroke="#b7a03e" stroke-width="1.1"/>
<polyline points="311.90,177.68 339.80,178.15 367.70,184.29" fill="none" stroke="#33377f" stroke-width="1.1"/>
<polyline points="311.90,177.68 339.80,190.90 367.70,192.78" fill="none" stroke="#9b9bd3" stroke-width="1.1"/>
<rect x="338.50" y="209.42" width="2.6" height="2.6" fill="#a3224d" stroke="#222" stroke-width="0.3"/>
<rect x="366.40" y="235.85" width="2.6" height="2.6" fill="#a3224d" stroke="#222" stroke-width="0.3"/>
<rect x="338.50" y="207.06" width="2.6" height="2.6" fill="#6f93a8" stroke="#222" stroke-width="0.3"/>
<rect x="366.40" y="228.77" width="2.6" height="2.6" fill="#6f93a8" stroke="#222" stroke-width="0.3"/>
<rect x="338.50" y="202.81" width="2.6" height="2.6" fill="#e6b877" stroke="#222" stroke-width="0.3"/>
<rect x="366.40" y="225.00" width="2.6" height="2.6" fill="#e6b877" stroke="#222" stroke-width="0.3"/>
<rect x="338.50" y="199.98" width="2.6" height="2.6" fill="#b9c98c" stroke="#222" stroke-width="0.3"/>
<rect x="366.40" y="220.28" width="2.6" height="2.6" fill="#b9c98c" stroke="#222" stroke-width="0.3"/>
<rect x="338.50" y="209.89" width="2.6" height="2.6" fill="#3d2657" stroke="#222" stroke-width="0.3"/>
<rect x="366.40" y="237.27" width="2.6" height="2.6" fill="#3d2657" stroke="#222" stroke-width="0.3"/>
<rect x="338.50" y="203.76" width="2.6" height="2.6" fill="#3e6b5c" stroke="#222" stroke-width="0.3"/>
<rect x="366.40" y="215.56" width="2.6" height="2.6" fill="#3e6b5c" stroke="#222" stroke-width="0.3"/>
<rect x="338.50" y="198.09" width="2.6" height="2.6" fill="#b7a03e" stroke="#222" stroke-width="0.3"/>
<rect x="366.40" y="211.78" width="2.6" height="2.6" fill="#b7a03e" stroke="#222" stroke-width="0.3"/>
<rect x="338.50" y="176.85" width="2.6" height="2.6" fill="#33377f" stroke="#222" stroke-width="0.3"/>
<rect x="366.40" y="182.99" width="2.6" height="2.6" fill="#33377f" stroke="#222" stroke-width="0.3"/>
<rect x="338.50" y="189.60" width="2.6" height="2.6" fill="#9b9bd3" stroke="#222" stroke-width="0.3"/>
<rect x="366.40" y="191.48" width="2.6" height="2.6" fill="#9b9bd3" stroke="#222" stroke-width="0.3"/>
<rect x="310.30" y="173.90" width="3.2" height="7.55" fill="#111"/>
<rect x="310.70" y="176.26" width="2.4" height="2.83" fill="#9b9bd3"/>
<line x1="376.70" y1="170.00" x2="389.10" y2="170.00" stroke="#a3224d" stroke-width="1.1"/>
<circle cx="382.90" cy="170.00" r="0.95" fill="#a3224d" stroke="#222" stroke-width="0.25"/>
<text x="391.90" y="171.90" font-size="5.3" text-anchor="start" font-weight="normal" fill="#1a1a1a" stroke="#1a1a1a" stroke-width="0.12">ED-401515</text>
<line x1="376.70" y1="176.17" x2="389.10" y2="176.17" stroke="#6f93a8" stroke-width="1.1"/>
<circle cx="382.90" cy="176.17" r="0.95" fill="#6f93a8" stroke="#222" stroke-width="0.25"/>
<text x="391.90" y="178.07" font-size="5.3" text-anchor="start" font-weight="normal" fill="#1a1a1a" stroke="#1a1a1a" stroke-width="0.12">TI-Om1</text>
<line x1="376.70" y1="182.34" x2="389.10" y2="182.34" stroke="#e6b877" stroke-width="1.1"/>
<circle cx="382.90" cy="182.34" r="0.95" fill="#e6b877" stroke="#222" stroke-width="0.25"/>
<text x="391.90" y="184.24" font-size="5.3" text-anchor="start" font-weight="normal" fill="#1a1a1a" stroke="#1a1a1a" stroke-width="0.12">MT1</text>
<line x1="376.70" y1="188.51" x2="389.10" y2="188.51" stroke="#b9c98c" stroke-width="1.1"/>
<circle cx="382.90" cy="188.51" r="0.95" fill="#b9c98c" stroke="#222" stroke-width="0.25"/>
<text x="391.90" y="190.41" font-size="5.3" text-anchor="start" font-weight="normal" fill="#1a1a1a" stroke="#1a1a1a" stroke-width="0.12">ATL43T</text>
<line x1="376.70" y1="194.68" x2="389.10" y2="194.68" stroke="#3d2657" stroke-width="1.1"/>
<circle cx="382.90" cy="194.68" r="0.95" fill="#3d2657" stroke="#222" stroke-width="0.25"/>
<text x="391.90" y="196.58" font-size="5.3" text-anchor="start" font-weight="normal" fill="#1a1a1a" stroke="#1a1a1a" stroke-width="0.12">ATL55T</text>
<line x1="376.70" y1="200.85" x2="389.10" y2="200.85" stroke="#3e6b5c" stroke-width="1.1"/>
<circle cx="382.90" cy="200.85" r="0.95" fill="#3e6b5c" stroke="#222" stroke-width="0.25"/>
<text x="391.90" y="202.75" font-size="5.3" text-anchor="start" font-weight="normal" fill="#1a1a1a" stroke="#1a1a1a" stroke-width="0.12">ATL25</text>
<line x1="376.70" y1="207.02" x2="389.10" y2="207.02" stroke="#b7a03e" stroke-width="1.1"/>
<circle cx="382.90" cy="207.02" r="0.95" fill="#b7a03e" stroke="#222" stroke-width="0.25"/>
<text x="391.90" y="208.92" font-size="5.3" text-anchor="start" font-weight="normal" fill="#1a1a1a" stroke="#1a1a1a" stroke-width="0.12">1185</text>
<line x1="376.70" y1="213.19" x2="389.10" y2="213.19" stroke="#33377f" stroke-width="1.1"/>
<circle cx="382.90" cy="213.19" r="0.95" fill="#33377f" stroke="#222" stroke-width="0.25"/>
<text x="391.90" y="215.09" font-size="5.3" text-anchor="start" font-weight="normal" fill="#1a1a1a" stroke="#1a1a1a" stroke-width="0.12">PBMC1</text>
<line x1="376.70" y1="219.36" x2="389.10" y2="219.36" stroke="#9b9bd3" stroke-width="1.1"/>
<circle cx="382.90" cy="219.36" r="0.95" fill="#9b9bd3" stroke="#222" stroke-width="0.25"/>
<text x="391.90" y="221.26" font-size="5.3" text-anchor="start" font-weight="normal" fill="#1a1a1a" stroke="#1a1a1a" stroke-width="0.12">PBMC2</text>
<line x1="339.80" y1="186.20" x2="339.80" y2="199.40" stroke="#1a1a1a" stroke-width="1.1"/>
<line x1="338.50" y1="186.20" x2="341.10" y2="186.20" stroke="#1a1a1a" stroke-width="0.9"/>
<line x1="338.50" y1="199.40" x2="341.10" y2="199.40" stroke="#1a1a1a" stroke-width="0.9"/>
<line x1="339.80" y1="198.50" x2="339.80" y2="214.50" stroke="#1a1a1a" stroke-width="1.1"/>
<line x1="338.50" y1="198.50" x2="341.10" y2="198.50" stroke="#1a1a1a" stroke-width="0.9"/>
<line x1="338.50" y1="214.50" x2="341.10" y2="214.50" stroke="#1a1a1a" stroke-width="0.9"/>
<line x1="367.70" y1="189.60" x2="367.70" y2="196.40" stroke="#1a1a1a" stroke-width="1.1"/>
<line x1="366.40" y1="189.60" x2="369.00" y2="189.60" stroke="#1a1a1a" stroke-width="0.9"/>
<line x1="366.40" y1="196.40" x2="369.00" y2="196.40" stroke="#1a1a1a" stroke-width="0.9"/>
<line x1="367.70" y1="208.00" x2="367.70" y2="230.50" stroke="#1a1a1a" stroke-width="1.1"/>
<line x1="366.40" y1="208.00" x2="369.00" y2="208.00" stroke="#1a1a1a" stroke-width="0.9"/>
<line x1="366.40" y1="230.50" x2="369.00" y2="230.50" stroke="#1a1a1a" stroke-width="0.9"/>
<line x1="367.70" y1="235.50" x2="367.70" y2="240.30" stroke="#1a1a1a" stroke-width="1.1"/>
<line x1="366.40" y1="235.50" x2="369.00" y2="235.50" stroke="#1a1a1a" stroke-width="0.9"/>
<line x1="366.40" y1="240.30" x2="369.00" y2="240.30" stroke="#1a1a1a" stroke-width="0.9"/>
<text x="454.80" y="153.80" font-size="4.8" text-anchor="middle" font-weight="normal" fill="#222">AZD1208 (μM)</text>
<text x="440.50" y="159.20" font-size="4.8" text-anchor="middle" font-weight="normal" fill="#222">0</text>
<text x="456.00" y="159.20" font-size="4.8" text-anchor="middle" font-weight="normal" fill="#222">5</text>
<text x="469.80" y="159.20" font-size="4.8" text-anchor="middle" font-weight="normal" fill="#222">10</text>
<rect x="433.10" y="159.90" width="43.40" height="7.70" fill="#afafaf"/>
<clipPath id="c29"><rect x="433.10" y="159.90" width="43.40" height="7.70"/></clipPath><g clip-path="url(#c29)">
<rect x="434.19" y="162.13" width="12.30" height="3.23" rx="1.29" fill="#1a1a1a" opacity="0.76" filter="url(#b6)"/>
<rect x="449.38" y="162.13" width="10.85" height="3.23" rx="1.29" fill="#1a1a1a" opacity="0.64" filter="url(#b6)"/>
<rect x="463.48" y="162.13" width="11.57" height="3.23" rx="1.29" fill="#1a1a1a" opacity="0.24" filter="url(#b6)"/>
</g>
<text x="478.50" y="165.35" font-size="4.5" text-anchor="start" font-weight="normal" fill="#333">p-4E-BP1(20kD)</text>
<rect x="433.10" y="169.30" width="43.40" height="7.00" fill="#c8c8c8"/>
<clipPath id="c30"><rect x="433.10" y="169.30" width="43.40" height="7.00"/></clipPath><g clip-path="url(#c30)">
<rect x="434.91" y="171.75" width="10.85" height="2.10" rx="0.84" fill="#1a1a1a" opacity="0.56" filter="url(#b6)"/>
<rect x="449.01" y="171.33" width="11.57" height="2.94" rx="1.18" fill="#1a1a1a" opacity="0.04" filter="url(#b6)"/>
</g>
<text x="478.50" y="174.40" font-size="4.5" text-anchor="start" font-weight="normal" fill="#333">p-p70S6K(70kD)</text>
<rect x="433.10" y="178.40" width="43.40" height="7.40" fill="#b9b9b9"/>
<clipPath id="c31"><rect x="433.10" y="178.40" width="43.40" height="7.40"/></clipPath><g clip-path="url(#c31)">
<rect x="434.55" y="180.55" width="11.57" height="3.11" rx="1.24" fill="#1a1a1a" opacity="0.40" filter="url(#b6)"/>
<rect x="449.01" y="180.55" width="11.57" height="3.11" rx="1.24" fill="#1a1a1a" opacity="0.36" filter="url(#b6)"/>
<rect x="464.20" y="180.55" width="10.13" height="3.11" rx="1.24" fill="#1a1a1a" opacity="0.44" filter="url(#b6)"/>
</g>
<text x="478.50" y="183.70" font-size="4.5" text-anchor="start" font-weight="normal" fill="#333">p-Bad(28kD)</text>
<rect x="433.10" y="187.80" width="43.40" height="6.70" fill="#b0b0b0"/>
<clipPath id="c32"><rect x="433.10" y="187.80" width="43.40" height="6.70"/></clipPath><g clip-path="url(#c32)">
<rect x="434.55" y="189.94" width="11.57" height="2.41" rx="0.96" fill="#1a1a1a" opacity="0.48" filter="url(#b6)"/>
<rect x="449.01" y="189.94" width="11.57" height="2.41" rx="0.96" fill="#1a1a1a" opacity="0.48" filter="url(#b6)"/>
<rect x="463.48" y="189.94" width="11.57" height="2.41" rx="0.96" fill="#1a1a1a" opacity="0.52" filter="url(#b6)"/>
</g>
<text x="478.50" y="192.75" font-size="4.5" text-anchor="start" font-weight="normal" fill="#333">Actin(43kD)</text>
<line x1="431.80" y1="164" x2="431.80" y2="195" stroke="#222" stroke-width="0.8"/>
<text x="430.30" y="179.50" font-size="4.8" text-anchor="middle" font-weight="normal" fill="#222" transform="rotate(-90 430.30 179.50)">ED-40515(-)</text>
<rect x="433.10" y="197.90" width="43.40" height="7.70" fill="#afafaf"/>
<clipPath id="c33"><rect x="433.10" y="197.90" width="43.40" height="7.70"/></clipPath><g clip-path="url(#c33)">
<rect x="434.55" y="200.13" width="11.57" height="3.23" rx="1.29" fill="#1a1a1a" opacity="0.68" filter="url(#b6)"/>
<rect x="449.01" y="200.13" width="11.57" height="3.23" rx="1.29" fill="#1a1a1a" opacity="0.68" filter="url(#b6)"/>
<rect x="463.48" y="200.13" width="11.57" height="3.23" rx="1.29" fill="#1a1a1a" opacity="0.64" filter="url(#b6)"/>
</g>
<text x="478.50" y="203.35" font-size="4.5" text-anchor="start" font-weight="normal" fill="#333">p-4E-BP1(20kD)</text>
<rect x="433.10" y="207.30" width="43.40" height="7.00" fill="#c8c8c8"/>
<clipPath id="c34"><rect x="433.10" y="207.30" width="43.40" height="7.00"/></clipPath><g clip-path="url(#c34)">
<rect x="434.55" y="209.33" width="11.57" height="2.94" rx="1.18" fill="#1a1a1a" opacity="0.32" filter="url(#b6)"/>
<rect x="449.01" y="209.33" width="11.57" height="2.94" rx="1.18" fill="#1a1a1a" opacity="0.24" filter="url(#b6)"/>
<rect x="463.48" y="209.33" width="11.57" height="2.94" rx="1.18" fill="#1a1a1a" opacity="0.12" filter="url(#b6)"/>
</g>
<text x="478.50" y="212.40" font-size="4.5" text-anchor="start" font-weight="normal" fill="#333">p-p70S6K(70kD)</text>
<rect x="433.10" y="216.40" width="43.40" height="7.40" fill="#b9b9b9"/>
<clipPath id="c35"><rect x="433.10" y="216.40" width="43.40" height="7.40"/></clipPath><g clip-path="url(#c35)">
<rect x="434.55" y="218.55" width="11.57" height="3.11" rx="1.24" fill="#1a1a1a" opacity="0.48" filter="url(#b6)"/>
<rect x="449.01" y="218.55" width="11.57" height="3.11" rx="1.24" fill="#1a1a1a" opacity="0.44" filter="url(#b6)"/>
<rect x="463.48" y="218.55" width="11.57" height="3.11" rx="1.24" fill="#1a1a1a" opacity="0.48" filter="url(#b6)"/>
</g>
<text x="478.50" y="221.70" font-size="4.5" text-anchor="start" font-weight="normal" fill="#333">p-Bad(28kD)</text>
<rect x="433.10" y="225.80" width="43.40" height="6.70" fill="#b0b0b0"/>
<clipPath id="c36"><rect x="433.10" y="225.80" width="43.40" height="6.70"/></clipPath><g clip-path="url(#c36)">
<rect x="434.55" y="227.94" width="11.57" height="2.41" rx="0.96" fill="#1a1a1a" opacity="0.60" filter="url(#b6)"/>
<rect x="449.01" y="227.94" width="11.57" height="2.41" rx="0.96" fill="#1a1a1a" opacity="0.60" filter="url(#b6)"/>
<rect x="463.48" y="227.94" width="11.57" height="2.41" rx="0.96" fill="#1a1a1a" opacity="0.60" filter="url(#b6)"/>
</g>
<text x="478.50" y="230.75" font-size="4.5" text-anchor="start" font-weight="normal" fill="#333">Actin(43kD)</text>
<line x1="431.80" y1="201.4" x2="431.80" y2="229" stroke="#222" stroke-width="0.8"/>
<text x="430.30" y="215.20" font-size="4.8" text-anchor="middle" font-weight="normal" fill="#222" transform="rotate(-90 430.30 215.20)">TI-Om1</text>
<rect x="433.10" y="235.10" width="43.40" height="7.70" fill="#afafaf"/>
<clipPath id="c37"><rect x="433.10" y="235.10" width="43.40" height="7.70"/></clipPath><g clip-path="url(#c37)">
<rect x="434.55" y="237.33" width="11.57" height="3.23" rx="1.29" fill="#1a1a1a" opacity="0.64" filter="url(#b6)"/>
<rect x="449.01" y="237.33" width="11.57" height="3.23" rx="1.29" fill="#1a1a1a" opacity="0.48" filter="url(#b6)"/>
<rect x="463.48" y="237.33" width="11.57" height="3.23" rx="1.29" fill="#1a1a1a" opacity="0.32" filter="url(#b6)"/>
</g>
<text x="478.50" y="240.55" font-size="4.5" text-anchor="start" font-weight="normal" fill="#333">p-4E-BP1(20kD)</text>
<rect x="433.10" y="244.50" width="43.40" height="7.00" fill="#c8c8c8"/>
<clipPath id="c38"><rect x="433.10" y="244.50" width="43.40" height="7.00"/></clipPath><g clip-path="url(#c38)">
<rect x="434.55" y="246.53" width="11.57" height="2.94" rx="1.18" fill="#1a1a1a" opacity="0.36" filter="url(#b6)"/>
<rect x="449.01" y="246.53" width="11.57" height="2.94" rx="1.18" fill="#1a1a1a" opacity="0.12" filter="url(#b6)"/>
</g>
<text x="478.50" y="249.60" font-size="4.5" text-anchor="start" font-weight="normal" fill="#333">p-p70S6K(70kD)</text>
<rect x="433.10" y="253.60" width="43.40" height="7.40" fill="#b9b9b9"/>
<clipPath id="c39"><rect x="433.10" y="253.60" width="43.40" height="7.40"/></clipPath><g clip-path="url(#c39)">
<rect x="434.55" y="255.75" width="11.57" height="3.11" rx="1.24" fill="#1a1a1a" opacity="0.48" filter="url(#b6)"/>
<rect x="449.01" y="255.75" width="11.57" height="3.11" rx="1.24" fill="#1a1a1a" opacity="0.40" filter="url(#b6)"/>
<rect x="463.48" y="255.75" width="11.57" height="3.11" rx="1.24" fill="#1a1a1a" opacity="0.40" filter="url(#b6)"/>
</g>
<text x="478.50" y="258.90" font-size="4.5" text-anchor="start" font-weight="normal" fill="#333">p-Bad(28kD)</text>
<rect x="433.10" y="263.00" width="43.40" height="6.70" fill="#b0b0b0"/>
<clipPath id="c40"><rect x="433.10" y="263.00" width="43.40" height="6.70"/></clipPath><g clip-path="url(#c40)">
<rect x="434.55" y="265.14" width="11.57" height="2.41" rx="0.96" fill="#1a1a1a" opacity="0.60" filter="url(#b6)"/>
<rect x="449.01" y="265.14" width="11.57" height="2.41" rx="0.96" fill="#1a1a1a" opacity="0.60" filter="url(#b6)"/>
<rect x="463.48" y="265.14" width="11.57" height="2.41" rx="0.96" fill="#1a1a1a" opacity="0.60" filter="url(#b6)"/>
</g>
<text x="478.50" y="267.95" font-size="4.5" text-anchor="start" font-weight="normal" fill="#333">Actin(43kD)</text>
<line x1="431.80" y1="237" x2="431.80" y2="265.4" stroke="#222" stroke-width="0.8"/>
<text x="430.30" y="251.20" font-size="4.8" text-anchor="middle" font-weight="normal" fill="#222" transform="rotate(-90 430.30 251.20)">ATL25</text>
<text x="6.40" y="296.00" font-size="11" text-anchor="start" font-weight="bold" fill="#000">E</text>
<line x1="204.26" y1="427.61" x2="112.71" y2="384.55" stroke="#111" stroke-width="0.9"/>
<polygon points="107.87,389.17 104.35,387.43 103.36,324.76 106.99,325.74" fill="#d65e6b"/>
<polygon points="107.87,389.17 113.28,388.35 112.61,325.28 106.99,325.74" fill="#c4192c"/>
<polygon points="106.99,325.74 112.61,325.28 108.92,324.31 103.36,324.76" fill="#e28c96"/>
<polygon points="90.56,391.78 87.19,389.98 85.46,323.53 88.94,324.51" fill="#9ca8c6"/>
<polygon points="90.56,391.78 96.17,390.93 94.78,324.05 88.94,324.51" fill="#7182ae"/>
<polygon points="88.94,324.51 94.78,324.05 91.25,323.08 85.46,323.53" fill="#b8c0d6"/>
<polygon points="72.61,394.48 69.40,392.62 67.06,328.26 70.36,329.32" fill="#f5c8a0"/>
<polygon points="72.61,394.48 78.43,393.61 76.41,328.83 70.36,329.32" fill="#f1b178"/>
<polygon points="70.36,329.32 76.41,328.83 73.05,327.78 67.06,328.26" fill="#f8d8bc"/>
<polygon points="54.00,397.29 50.96,395.35 48.15,335.80 51.26,336.98" fill="#cbddbc"/>
<polygon points="54.00,397.29 60.03,396.38 57.52,336.43 51.26,336.98" fill="#b5cea0"/>
<polygon points="51.26,336.98 57.52,336.43 54.35,335.27 48.15,335.80" fill="#dae6d0"/>
<polygon points="117.06,393.70 113.31,391.86 112.63,327.89 116.50,328.94" fill="#d65e6b"/>
<polygon points="117.06,393.70 122.58,392.84 122.24,328.45 116.50,328.94" fill="#c4192c"/>
<polygon points="116.50,328.94 122.24,328.45 118.32,327.41 112.63,327.89" fill="#e28c96"/>
<polygon points="99.36,396.48 95.77,394.56 94.42,330.22 98.13,331.32" fill="#9ca8c6"/>
<polygon points="99.36,396.48 105.10,395.58 104.09,330.80 98.13,331.32" fill="#7182ae"/>
<polygon points="98.13,331.32 104.09,330.80 100.33,329.72 94.42,330.22" fill="#b8c0d6"/>
<polygon points="81.00,399.36 77.58,397.37 75.46,330.23 78.98,331.35" fill="#f5c8a0"/>
<polygon points="81.00,399.36 86.95,398.43 85.18,330.82 78.98,331.35" fill="#f1b178"/>
<polygon points="78.98,331.35 85.18,330.82 81.59,329.72 75.46,330.23" fill="#f8d8bc"/>
<polygon points="61.94,402.35 58.70,400.29 56.02,337.65 59.34,338.88" fill="#cbddbc"/>
<polygon points="61.94,402.35 68.12,401.38 65.76,338.30 59.34,338.88" fill="#b5cea0"/>
<polygon points="59.34,338.88 65.76,338.30 62.38,337.08 56.02,337.65" fill="#dae6d0"/>
<polygon points="126.83,398.53 122.85,396.56 122.50,330.24 126.64,331.35" fill="#f0bfb3"/>
<polygon points="126.83,398.53 132.47,397.60 132.51,330.83 126.64,331.35" fill="#e9a393"/>
<polygon points="126.64,331.35 132.51,330.83 128.32,329.73 122.50,330.24" fill="#f4d1c9"/>
<polygon points="108.74,401.49 104.92,399.45 103.87,332.95 107.84,334.12" fill="#d5daea"/>
<polygon points="108.74,401.49 114.61,400.53 113.93,333.57 107.84,334.12" fill="#c3cae1"/>
<polygon points="107.84,334.12 113.93,333.57 109.92,332.41 103.87,332.95" fill="#e1e4f0"/>
<polygon points="89.95,404.56 86.30,402.44 84.56,336.94 88.32,338.19" fill="#fde6d1"/>
<polygon points="89.95,404.56 96.04,403.57 94.66,337.60 88.32,338.19" fill="#fcdbbd"/>
<polygon points="88.32,338.19 94.66,337.60 90.83,336.37 84.56,336.94" fill="#feedde"/>
<polygon points="70.41,407.76 66.95,405.56 64.54,342.14 68.09,343.48" fill="#e9f0e0"/>
<polygon points="70.41,407.76 76.75,406.73 74.68,342.85 68.09,343.48" fill="#dfead3"/>
<polygon points="68.09,343.48 74.68,342.85 71.06,341.53 64.54,342.14" fill="#eff4e9"/>
<polygon points="137.25,403.67 133.00,401.58 133.05,333.35 137.48,334.54" fill="#f0bfb3"/>
<polygon points="137.25,403.67 143.02,402.69 143.48,333.98 137.48,334.54" fill="#e9a393"/>
<polygon points="137.48,334.54 143.48,333.98 139.00,332.80 133.05,333.35" fill="#f4d1c9"/>
<polygon points="118.76,406.84 114.67,404.65 114.06,343.62 118.29,344.97" fill="#d5daea"/>
<polygon points="118.76,406.84 124.76,405.81 124.51,344.34 118.29,344.97" fill="#c3cae1"/>
<polygon points="118.29,344.97 124.51,344.34 120.22,343.00 114.06,343.62" fill="#e1e4f0"/>
<polygon points="99.52,410.13 95.61,407.86 94.29,345.53 98.32,346.94" fill="#fde6d1"/>
<polygon points="99.52,410.13 105.76,409.06 104.80,346.28 98.32,346.94" fill="#fcdbbd"/>
<polygon points="98.32,346.94 104.80,346.28 100.71,344.89 94.29,345.53" fill="#feedde"/>
<polygon points="79.49,413.55 75.78,411.19 73.55,343.46 77.37,344.87" fill="#e9f0e0"/>
<polygon points="79.49,413.55 85.99,412.44 84.15,344.20 77.37,344.87" fill="#dfead3"/>
<polygon points="77.37,344.87 84.15,344.20 80.25,342.81 73.55,343.46" fill="#eff4e9"/>
<polygon points="148.40,409.18 143.85,406.93 144.35,336.60 149.10,337.88" fill="#f0bfb3"/>
<polygon points="148.40,409.18 154.29,408.12 155.23,337.28 149.10,337.88" fill="#e9a393"/>
<polygon points="149.10,337.88 155.23,337.28 150.43,336.02 144.35,336.60" fill="#f4d1c9"/>
<polygon points="129.48,412.56 125.10,410.22 124.83,339.70 129.39,341.05" fill="#d5daea"/>
<polygon points="129.48,412.56 135.62,411.46 135.78,340.42 129.39,341.05" fill="#c3cae1"/>
<polygon points="129.39,341.05 135.78,340.42 131.16,339.09 124.83,339.70" fill="#e1e4f0"/>
<polygon points="109.78,416.09 105.59,413.65 104.66,353.63 108.99,355.20" fill="#fde6d1"/>
<polygon points="109.78,416.09 116.17,414.94 115.61,354.46 108.99,355.20" fill="#fcdbbd"/>
<polygon points="108.99,355.20 115.61,354.46 111.22,352.91 104.66,353.63" fill="#feedde"/>
<polygon points="89.23,419.77 85.25,417.23 84.07,374.46 88.14,376.37" fill="#e9f0e0"/>
<polygon points="89.23,419.77 95.90,418.57 94.98,375.47 88.14,376.37" fill="#dfead3"/>
<polygon points="88.14,376.37 94.98,375.47 90.85,373.59 84.07,374.46" fill="#eff4e9"/>
<polygon points="160.33,415.07 155.46,412.66 156.48,339.64 161.58,341.01" fill="#f0bfb3"/>
<polygon points="160.33,415.07 166.35,413.94 167.86,340.37 161.58,341.01" fill="#e9a393"/>
<polygon points="161.58,341.01 167.86,340.37 162.70,339.02 156.48,339.64" fill="#f4d1c9"/>
<polygon points="140.98,418.70 136.28,416.19 136.47,345.99 141.37,347.48" fill="#d5daea"/>
<polygon points="140.98,418.70 147.26,417.52 147.91,346.78 141.37,347.48" fill="#c3cae1"/>
<polygon points="141.37,347.48 147.91,346.78 142.95,345.31 136.47,345.99" fill="#e1e4f0"/>
<polygon points="120.79,422.49 116.29,419.88 115.70,355.74 120.37,357.40" fill="#fde6d1"/>
<polygon points="120.79,422.49 127.35,421.26 127.18,356.62 120.37,357.40" fill="#fcdbbd"/>
<polygon points="120.37,357.40 127.18,356.62 122.44,354.98 115.70,355.74" fill="#feedde"/>
<polygon points="99.71,426.45 95.42,423.72 94.56,383.57 98.93,385.69" fill="#e9f0e0"/>
<polygon points="99.71,426.45 106.56,425.17 105.95,384.69 98.93,385.69" fill="#dfead3"/>
<polygon points="98.93,385.69 105.95,384.69 101.50,382.60 94.56,383.57" fill="#eff4e9"/>
<polygon points="173.15,421.40 167.91,418.81 169.53,343.28 175.03,344.76" fill="#f0bfb3"/>
<polygon points="173.15,421.40 179.30,420.18 181.45,344.06 175.03,344.76" fill="#e9a393"/>
<polygon points="175.03,344.76 181.45,344.06 175.89,342.61 169.53,343.28" fill="#f4d1c9"/>
<polygon points="153.35,425.31 148.29,422.61 148.87,363.45 154.12,365.26" fill="#d5daea"/>
<polygon points="153.35,425.31 159.78,424.04 160.77,364.41 154.12,365.26" fill="#c3cae1"/>
<polygon points="154.12,365.26 160.77,364.41 155.46,362.63 148.87,363.45" fill="#e1e4f0"/>
<polygon points="132.66,429.39 127.81,426.57 127.70,381.58 132.69,383.71" fill="#fde6d1"/>
<polygon points="132.66,429.39 139.38,428.07 139.59,382.71 132.69,383.71" fill="#fcdbbd"/>
<polygon points="132.69,383.71 139.59,382.71 134.53,380.61 127.70,381.58" fill="#feedde"/>
<polygon points="111.02,433.67 106.39,430.71 105.85,395.17 110.57,397.56" fill="#e9f0e0"/>
<polygon points="111.02,433.67 118.05,432.28 117.76,396.44 110.57,397.56" fill="#dfead3"/>
<polygon points="110.57,397.56 117.76,396.44 112.96,394.08 105.85,395.17" fill="#eff4e9"/>
<polygon points="186.95,428.21 181.30,425.42 183.61,347.04 189.57,348.63" fill="#f0bfb3"/>
<polygon points="186.95,428.21 193.24,426.90 196.13,347.88 189.57,348.63" fill="#e9a393"/>
<polygon points="189.57,348.63 196.13,347.88 190.12,346.32 183.61,347.04" fill="#f4d1c9"/>
<polygon points="166.69,432.43 161.23,429.51 162.23,372.75 167.89,374.78" fill="#d5daea"/>
<polygon points="166.69,432.43 173.27,431.06 174.69,373.82 167.89,374.78" fill="#c3cae1"/>
<polygon points="167.89,374.78 174.69,373.82 168.96,371.83 162.23,372.75" fill="#e1e4f0"/>
<polygon points="145.48,436.85 140.23,433.79 140.48,385.05 145.89,387.32" fill="#fde6d1"/>
<polygon points="145.48,436.85 152.37,435.41 152.98,386.25 145.89,387.32" fill="#fcdbbd"/>
<polygon points="145.89,387.32 152.98,386.25 147.50,384.01 140.48,385.05" fill="#feedde"/>
<polygon points="123.26,441.48 118.24,438.28 118.02,410.25 123.11,412.98" fill="#e9f0e0"/>
<polygon points="123.26,441.48 130.48,439.97 130.46,411.70 123.11,412.98" fill="#dfead3"/>
<polygon points="123.11,412.98 130.46,411.70 125.29,409.00 118.02,410.25" fill="#eff4e9"/>
<polyline points="41.28,393.56 119.26,445.61 204.26,427.61" fill="none" stroke="#111" stroke-width="1.1"/>
<line x1="41.28" y1="393.56" x2="52.08" y2="392.44" stroke="#111" stroke-width="1.0"/>
<line x1="112.97" y1="441.46" x2="110.37" y2="441.46" stroke="#111" stroke-width="1.0"/>
<text x="110.10" y="446.10" font-size="6.5" text-anchor="end" font-weight="normal" fill="#111" stroke="#111" stroke-width="0.18">ATL25</text>
<line x1="101.14" y1="433.65" x2="98.54" y2="433.65" stroke="#111" stroke-width="1.0"/>
<text x="97.40" y="438.00" font-size="6.5" text-anchor="end" font-weight="normal" fill="#111" stroke="#111" stroke-width="0.18">MT1</text>
<line x1="90.21" y1="426.44" x2="87.61" y2="426.44" stroke="#111" stroke-width="1.0"/>
<text x="85.80" y="430.00" font-size="6.5" text-anchor="end" font-weight="normal" fill="#111" stroke="#111" stroke-width="0.18">TI-Om1</text>
<line x1="80.08" y1="419.76" x2="77.48" y2="419.76" stroke="#111" stroke-width="1.0"/>
<text x="74.60" y="422.70" font-size="6.5" text-anchor="end" font-weight="normal" fill="#111" stroke="#111" stroke-width="0.18">ED-40515(–)</text>
<line x1="70.66" y1="413.54" x2="68.06" y2="413.54" stroke="#111" stroke-width="1.0"/>
<text x="66.40" y="415.20" font-size="6.5" text-anchor="end" font-weight="normal" fill="#111" stroke="#111" stroke-width="0.18">ATL55T</text>
<line x1="61.88" y1="407.75" x2="59.28" y2="407.75" stroke="#111" stroke-width="1.0"/>
<text x="56.20" y="410.40" font-size="6.5" text-anchor="end" font-weight="normal" fill="#111" stroke="#111" stroke-width="0.18">ATL43T</text>
<line x1="53.69" y1="402.34" x2="51.09" y2="402.34" stroke="#111" stroke-width="1.0"/>
<text x="47.50" y="403.30" font-size="6.5" text-anchor="end" font-weight="normal" fill="#111" stroke="#111" stroke-width="0.18">PBMC1</text>
<line x1="46.02" y1="397.28" x2="43.42" y2="397.28" stroke="#111" stroke-width="1.0"/>
<text x="39.80" y="398.60" font-size="6.5" text-anchor="end" font-weight="normal" fill="#111" stroke="#111" stroke-width="0.18">PBMC2</text>
<line x1="204.26" y1="427.61" x2="207.90" y2="344.40" stroke="#111" stroke-width="1.1"/>
<line x1="204.26" y1="427.61" x2="207.76" y2="427.61" stroke="#111" stroke-width="0.9"/>
<text x="211.26" y="430.31" font-size="7.5" text-anchor="start" font-weight="normal" fill="#111" stroke="#111" stroke-width="0.18">0</text>
<line x1="204.96" y1="411.65" x2="208.46" y2="411.65" stroke="#111" stroke-width="0.9"/>
<text x="211.86" y="414.35" font-size="7.5" text-anchor="start" font-weight="normal" fill="#111" stroke="#111" stroke-width="0.18">20</text>
<line x1="205.66" y1="395.69" x2="209.16" y2="395.69" stroke="#111" stroke-width="0.9"/>
<text x="212.56" y="398.39" font-size="7.5" text-anchor="start" font-weight="normal" fill="#111" stroke="#111" stroke-width="0.18">40</text>
<line x1="206.35" y1="379.73" x2="209.85" y2="379.73" stroke="#111" stroke-width="0.9"/>
<text x="213.25" y="382.43" font-size="7.5" text-anchor="start" font-weight="normal" fill="#111" stroke="#111" stroke-width="0.18">60</text>
<line x1="207.05" y1="363.77" x2="210.55" y2="363.77" stroke="#111" stroke-width="0.9"/>
<text x="213.95" y="366.47" font-size="7.5" text-anchor="start" font-weight="normal" fill="#111" stroke="#111" stroke-width="0.18">80</text>
<line x1="207.75" y1="347.81" x2="211.25" y2="347.81" stroke="#111" stroke-width="0.9"/>
<text x="214.65" y="350.51" font-size="7.5" text-anchor="start" font-weight="normal" fill="#111" stroke="#111" stroke-width="0.18">100</text>
<text x="37.30" y="319.50" font-size="6.6" text-anchor="start" font-weight="normal" fill="#111" transform="rotate(45 37.30 319.50)" stroke="#111" stroke-width="0.18">40μM</text>
<text x="55.30" y="313.00" font-size="6.6" text-anchor="start" font-weight="normal" fill="#111" transform="rotate(45 55.30 313.00)" stroke="#111" stroke-width="0.18">20μM</text>
<text x="73.80" y="307.50" font-size="6.6" text-anchor="start" font-weight="normal" fill="#111" transform="rotate(45 73.80 307.50)" stroke="#111" stroke-width="0.18">10μM</text>
<text x="89.30" y="307.50" font-size="6.6" text-anchor="start" font-weight="normal" fill="#111" transform="rotate(45 89.30 307.50)" stroke="#111" stroke-width="0.18">0μM</text>
<text x="115.00" y="309.90" font-size="9.2" text-anchor="start" font-weight="normal" fill="#111" textLength="48.00" lengthAdjust="spacingAndGlyphs" stroke="#111" stroke-width="0.18">XTT: SMI-4a</text>
<text x="126.00" y="457.20" font-size="9.0" text-anchor="start" font-weight="normal" fill="#111" transform="rotate(-11.4 126.00 457.20)" textLength="81.30" lengthAdjust="spacingAndGlyphs" stroke="#111" stroke-width="0.18">% XTT of SMI-4a/DMSO</text>
<text x="280.60" y="296.00" font-size="11" text-anchor="start" font-weight="bold" fill="#000">F</text>
<line x1="470.87" y1="425.78" x2="372.07" y2="378.02" stroke="#111" stroke-width="0.9"/>
<polygon points="366.01,382.87 362.41,381.04 360.80,313.83 364.54,314.81" fill="#d65e6b"/>
<polygon points="366.01,382.87 372.72,381.97 371.58,314.33 364.54,314.81" fill="#c4192c"/>
<polygon points="364.54,314.81 371.58,314.33 367.77,313.37 360.80,313.83" fill="#e28c96"/>
<polygon points="346.91,385.44 343.50,383.54 341.32,324.97 344.84,326.10" fill="#9ca8c6"/>
<polygon points="346.91,385.44 353.86,384.51 352.09,325.55 344.84,326.10" fill="#7182ae"/>
<polygon points="344.84,326.10 352.09,325.55 348.50,324.42 341.32,324.97" fill="#b8c0d6"/>
<polygon points="327.13,388.10 323.92,386.13 320.80,324.91 324.10,326.07" fill="#f5c8a0"/>
<polygon points="327.13,388.10 334.33,387.13 331.63,325.50 324.10,326.07" fill="#f1b178"/>
<polygon points="324.10,326.07 331.63,325.50 328.25,324.36 320.80,324.91" fill="#f8d8bc"/>
<polygon points="375.65,387.80 371.81,385.84 370.60,316.87 374.61,317.91" fill="#d65e6b"/>
<polygon points="375.65,387.80 382.53,386.84 381.83,317.40 374.61,317.91" fill="#c4192c"/>
<polygon points="374.61,317.91 381.83,317.40 377.75,316.37 370.60,316.87" fill="#e28c96"/>
<polygon points="356.07,390.55 352.42,388.52 350.54,327.94 354.31,329.15" fill="#9ca8c6"/>
<polygon points="356.07,390.55 363.20,389.55 361.76,328.56 354.31,329.15" fill="#7182ae"/>
<polygon points="354.31,329.15 361.76,328.56 357.91,327.36 350.54,327.94" fill="#b8c0d6"/>
<polygon points="335.76,393.40 332.32,391.29 329.69,333.14 333.23,334.45" fill="#f5c8a0"/>
<polygon points="335.76,393.40 343.16,392.36 340.95,333.80 333.23,334.45" fill="#f1b178"/>
<polygon points="333.23,334.45 340.95,333.80 337.32,332.51 329.69,333.14" fill="#f8d8bc"/>
<polygon points="385.98,393.08 381.86,390.98 381.09,318.09 385.40,319.19" fill="#f0bfb3"/>
<polygon points="385.98,393.08 393.03,392.04 392.82,318.65 385.40,319.19" fill="#e9a393"/>
<polygon points="385.40,319.19 392.82,318.65 388.43,317.57 381.09,318.09" fill="#f4d1c9"/>
<polygon points="365.89,396.02 361.98,393.84 360.60,337.95 364.65,339.35" fill="#d5daea"/>
<polygon points="365.89,396.02 373.21,394.95 372.27,338.66 364.65,339.35" fill="#c3cae1"/>
<polygon points="364.65,339.35 372.27,338.66 368.14,337.28 360.60,337.95" fill="#e1e4f0"/>
<polygon points="345.02,399.08 341.33,396.82 339.17,341.58 342.97,343.06" fill="#fde6d1"/>
<polygon points="345.02,399.08 352.63,397.97 350.89,342.33 342.97,343.06" fill="#fcdbbd"/>
<polygon points="342.97,343.06 350.89,342.33 347.00,340.87 339.17,341.58" fill="#feedde"/>
<polygon points="397.05,398.74 392.64,396.48 392.41,322.09 397.06,323.29" fill="#f0bfb3"/>
<polygon points="397.05,398.74 404.28,397.63 404.67,322.70 397.06,323.29" fill="#e9a393"/>
<polygon points="397.06,323.29 404.67,322.70 399.94,321.52 392.41,322.09" fill="#f4d1c9"/>
<polygon points="376.44,401.90 372.23,399.56 371.22,341.62 375.58,343.12" fill="#d5daea"/>
<polygon points="376.44,401.90 383.95,400.75 383.42,342.38 375.58,343.12" fill="#c3cae1"/>
<polygon points="375.58,343.12 383.42,342.38 378.97,340.90 371.22,341.62" fill="#e1e4f0"/>
<polygon points="354.99,405.20 351.01,402.76 349.23,347.63 353.33,349.25" fill="#fde6d1"/>
<polygon points="354.99,405.20 362.81,404.00 361.47,348.45 353.33,349.25" fill="#fcdbbd"/>
<polygon points="353.33,349.25 361.47,348.45 357.27,346.85 349.23,347.63" fill="#feedde"/>
<polygon points="408.97,404.83 404.22,402.40 404.61,325.00 409.64,326.28" fill="#f0bfb3"/>
<polygon points="408.97,404.83 416.39,403.63 417.45,325.65 409.64,326.28" fill="#e9a393"/>
<polygon points="409.64,326.28 417.45,325.65 412.35,324.38 404.61,325.00" fill="#f4d1c9"/>
<polygon points="387.80,408.24 383.27,405.71 382.72,349.59 387.43,351.28" fill="#d5daea"/>
<polygon points="387.80,408.24 395.52,407.00 395.46,350.45 387.43,351.28" fill="#c3cae1"/>
<polygon points="387.43,351.28 395.46,350.45 390.67,348.79 382.72,349.59" fill="#e1e4f0"/>
<polygon points="365.75,411.80 361.45,409.16 360.19,359.07 364.62,360.93" fill="#fde6d1"/>
<polygon points="365.75,411.80 373.79,410.50 372.96,360.02 364.62,360.93" fill="#fcdbbd"/>
<polygon points="364.62,360.93 372.96,360.02 368.44,358.18 360.19,359.07" fill="#feedde"/>
<polygon points="421.83,411.40 416.70,408.77 417.82,328.05 423.27,329.43" fill="#f0bfb3"/>
<polygon points="421.83,411.40 429.44,410.11 431.31,328.75 423.27,329.43" fill="#e9a393"/>
<polygon points="423.27,329.43 431.31,328.75 425.77,327.39 417.82,328.05" fill="#f4d1c9"/>
<polygon points="400.08,415.09 395.18,412.35 395.11,359.68 400.20,361.59" fill="#d5daea"/>
<polygon points="400.08,415.09 408.02,413.74 408.43,360.65 400.20,361.59" fill="#c3cae1"/>
<polygon points="400.20,361.59 408.43,360.65 403.25,358.77 395.11,359.68" fill="#e1e4f0"/>
<polygon points="377.39,418.94 372.73,416.09 371.86,365.73 376.67,367.77" fill="#fde6d1"/>
<polygon points="377.39,418.94 385.67,417.53 385.26,366.77 376.67,367.77" fill="#fcdbbd"/>
<polygon points="376.67,367.77 385.26,366.77 380.35,364.75 371.86,365.73" fill="#feedde"/>
<polygon points="435.74,418.50 430.18,415.66 432.14,332.60 438.07,334.12" fill="#f0bfb3"/>
<polygon points="435.74,418.50 443.55,417.11 446.33,333.37 438.07,334.12" fill="#e9a393"/>
<polygon points="438.07,334.12 446.33,333.37 440.31,331.88 432.14,332.60" fill="#f4d1c9"/>
<polygon points="413.39,422.51 408.07,419.54 408.47,368.81 413.99,370.94" fill="#d5daea"/>
<polygon points="413.39,422.51 421.55,421.05 422.45,369.89 413.99,370.94" fill="#c3cae1"/>
<polygon points="413.99,370.94 422.45,369.89 416.83,367.79 408.47,368.81" fill="#e1e4f0"/>
<polygon points="390.02,426.69 384.97,423.59 384.56,375.75 389.78,378.05" fill="#fde6d1"/>
<polygon points="390.02,426.69 398.56,425.17 398.61,376.91 389.78,378.05" fill="#fcdbbd"/>
<polygon points="389.78,378.05 398.61,376.91 393.28,374.65 384.56,375.75" fill="#feedde"/>
<polygon points="450.84,426.22 444.80,423.13 447.78,336.23 454.25,337.87" fill="#f0bfb3"/>
<polygon points="450.84,426.22 458.86,424.70 462.75,337.06 454.25,337.87" fill="#e9a393"/>
<polygon points="454.25,337.87 462.75,337.06 456.18,335.45 447.78,336.23" fill="#f4d1c9"/>
<polygon points="427.86,430.58 422.07,427.35 422.72,390.94 428.68,393.55" fill="#d5daea"/>
<polygon points="427.86,430.58 436.26,428.99 437.29,392.26 428.68,393.55" fill="#c3cae1"/>
<polygon points="428.68,393.55 437.29,392.26 431.24,389.70 422.72,390.94" fill="#e1e4f0"/>
<polygon points="403.79,435.14 398.28,431.76 398.30,406.55 403.92,409.50" fill="#fde6d1"/>
<polygon points="403.79,435.14 412.59,433.47 412.87,408.05 403.92,409.50" fill="#fcdbbd"/>
<polygon points="403.92,409.50 412.87,408.05 407.15,405.15 398.30,406.55" fill="#feedde"/>
<polyline points="313.91,384.10 400.22,439.42 470.87,425.78" fill="none" stroke="#111" stroke-width="1.1"/>
<line x1="313.91" y1="384.10" x2="322.85" y2="383.45" stroke="#111" stroke-width="1.0"/>
<line x1="393.12" y1="434.92" x2="390.52" y2="434.92" stroke="#111" stroke-width="1.0"/>
<text x="391.10" y="441.20" font-size="6.5" text-anchor="end" font-weight="normal" fill="#111" stroke="#111" stroke-width="0.18">ED-40515(–)</text>
<line x1="379.82" y1="426.49" x2="377.22" y2="426.49" stroke="#111" stroke-width="1.0"/>
<text x="376.30" y="432.10" font-size="6.5" text-anchor="end" font-weight="normal" fill="#111" stroke="#111" stroke-width="0.18">MT1</text>
<line x1="367.61" y1="418.75" x2="365.01" y2="418.75" stroke="#111" stroke-width="1.0"/>
<text x="362.90" y="423.50" font-size="6.5" text-anchor="end" font-weight="normal" fill="#111" stroke="#111" stroke-width="0.18">TI-Om1</text>
<line x1="356.37" y1="411.62" x2="353.77" y2="411.62" stroke="#111" stroke-width="1.0"/>
<text x="351.50" y="416.00" font-size="6.5" text-anchor="end" font-weight="normal" fill="#111" stroke="#111" stroke-width="0.18">ATL25</text>
<line x1="345.98" y1="405.04" x2="343.38" y2="405.04" stroke="#111" stroke-width="1.0"/>
<text x="341.50" y="409.00" font-size="6.5" text-anchor="end" font-weight="normal" fill="#111" stroke="#111" stroke-width="0.18">ATL55T</text>
<line x1="336.35" y1="398.93" x2="333.75" y2="398.93" stroke="#111" stroke-width="1.0"/>
<text x="330.80" y="402.90" font-size="6.5" text-anchor="end" font-weight="normal" fill="#111" stroke="#111" stroke-width="0.18">ATL43T</text>
<line x1="327.40" y1="393.26" x2="324.80" y2="393.26" stroke="#111" stroke-width="1.0"/>
<text x="321.60" y="396.50" font-size="6.5" text-anchor="end" font-weight="normal" fill="#111" stroke="#111" stroke-width="0.18">PBMC1</text>
<line x1="319.06" y1="387.97" x2="316.46" y2="387.97" stroke="#111" stroke-width="1.0"/>
<text x="312.90" y="391.00" font-size="6.5" text-anchor="end" font-weight="normal" fill="#111" stroke="#111" stroke-width="0.18">PBMC2</text>
<line x1="470.87" y1="425.78" x2="475.20" y2="334.70" stroke="#111" stroke-width="1.1"/>
<line x1="470.87" y1="425.78" x2="474.37" y2="425.78" stroke="#111" stroke-width="0.9"/>
<text x="478.47" y="428.48" font-size="7.5" text-anchor="start" font-weight="normal" fill="#111" stroke="#111" stroke-width="0.18">0</text>
<line x1="471.71" y1="408.08" x2="475.21" y2="408.08" stroke="#111" stroke-width="0.9"/>
<text x="477.11" y="410.78" font-size="7.5" text-anchor="start" font-weight="normal" fill="#111" stroke="#111" stroke-width="0.18">20</text>
<line x1="472.55" y1="390.38" x2="476.05" y2="390.38" stroke="#111" stroke-width="0.9"/>
<text x="477.75" y="393.08" font-size="7.5" text-anchor="start" font-weight="normal" fill="#111" stroke="#111" stroke-width="0.18">40</text>
<line x1="473.39" y1="372.68" x2="476.89" y2="372.68" stroke="#111" stroke-width="0.9"/>
<text x="478.39" y="375.38" font-size="7.5" text-anchor="start" font-weight="normal" fill="#111" stroke="#111" stroke-width="0.18">60</text>
<line x1="474.24" y1="354.98" x2="477.74" y2="354.98" stroke="#111" stroke-width="0.9"/>
<text x="479.14" y="357.68" font-size="7.5" text-anchor="start" font-weight="normal" fill="#111" stroke="#111" stroke-width="0.18">80</text>
<line x1="475.08" y1="337.28" x2="478.58" y2="337.28" stroke="#111" stroke-width="0.9"/>
<text x="479.88" y="339.98" font-size="7.5" text-anchor="start" font-weight="normal" fill="#111" stroke="#111" stroke-width="0.18">100</text>
<text x="310.80" y="308.00" font-size="6.6" text-anchor="start" font-weight="normal" fill="#111" transform="rotate(45 310.80 308.00)" stroke="#111" stroke-width="0.18">10μM</text>
<text x="332.30" y="307.00" font-size="6.6" text-anchor="start" font-weight="normal" fill="#111" transform="rotate(45 332.30 307.00)" stroke="#111" stroke-width="0.18">5μM</text>
<text x="348.30" y="304.50" font-size="6.6" text-anchor="start" font-weight="normal" fill="#111" transform="rotate(45 348.30 304.50)" stroke="#111" stroke-width="0.18">0μM</text>
<text x="380.20" y="309.00" font-size="9.2" text-anchor="start" font-weight="normal" fill="#111" textLength="56.80" lengthAdjust="spacingAndGlyphs" stroke="#111" stroke-width="0.18">XTT: AZD1208</text>
<text x="397.00" y="457.60" font-size="9.0" text-anchor="start" font-weight="normal" fill="#111" transform="rotate(-12.6 397.00 457.60)" textLength="89.30" lengthAdjust="spacingAndGlyphs" stroke="#111" stroke-width="0.18">% XTT of AZD1208/DMSO</text>
<rect x="0.5" y="0.5" width="519" height="467" fill="none" stroke="#222" stroke-width="1.2"/>
</svg></body></html>
